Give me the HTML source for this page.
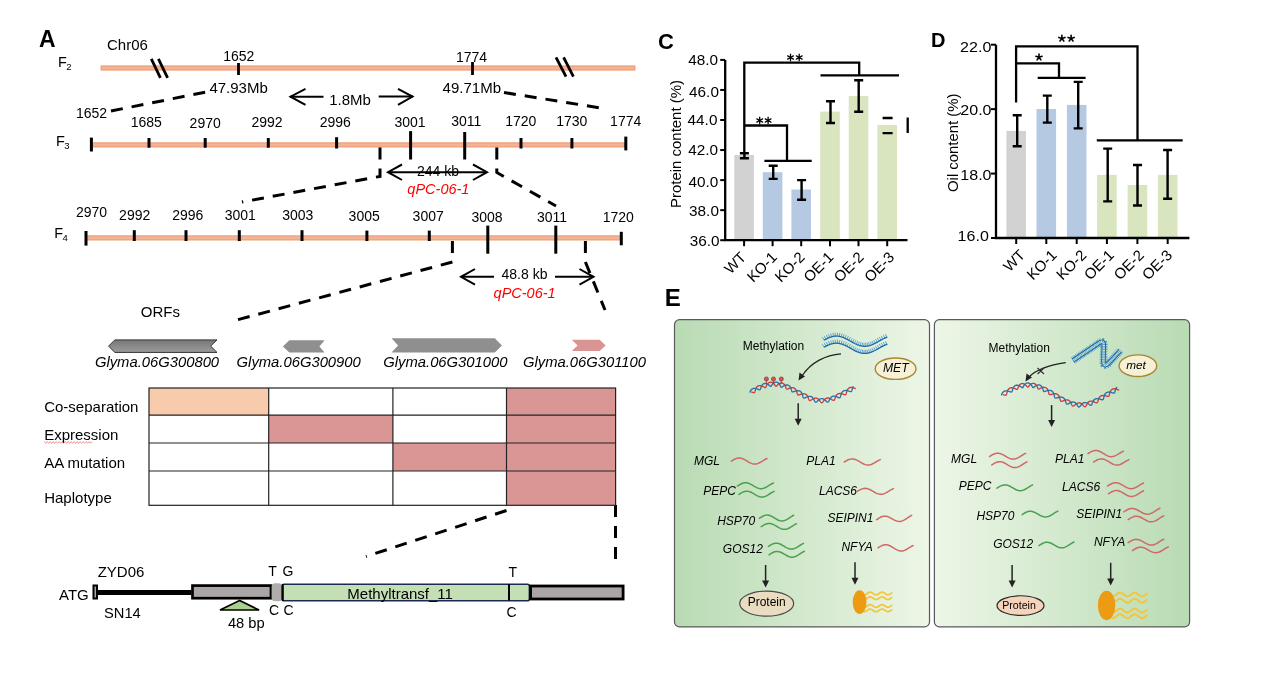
<!DOCTYPE html>
<html><head><meta charset="utf-8">
<style>
html,body{margin:0;padding:0;background:#fff;}
body{width:1268px;height:676px;overflow:hidden;position:relative;}
svg{position:absolute;left:0;top:0;will-change:transform;}
text{font-family:"Liberation Sans",sans-serif;fill:#000;}
</style></head><body>
<svg width="1268" height="676" viewBox="0 0 1268 676">
<defs>
<linearGradient id="gL" x1="0" x2="1" y1="0" y2="0">
<stop offset="0" stop-color="#b8dbb3"/><stop offset="1" stop-color="#edf6e7"/></linearGradient>
<linearGradient id="gR" x1="0" x2="1" y1="0" y2="0">
<stop offset="0" stop-color="#edf6e7"/><stop offset="1" stop-color="#b8dbb3"/></linearGradient>
</defs>
<!-- ============ PANEL A ============ -->
<g id="A">
<text x="39" y="46.6" font-size="23" font-weight="bold">A</text>
<text x="107" y="50.3" font-size="15">Chr06</text>
<!-- F2 -->
<text x="58" y="66.6" font-size="14.5">F</text><text x="66.2" y="69.6" font-size="9.5">2</text>
<rect x="101.20" y="66.00" width="533.70" height="4.00" fill="#F3B398" stroke="#EF9D70" stroke-width="1.2"/>
<g stroke="#000" stroke-width="2.8" stroke-linecap="butt">
<line x1="151.3" y1="58.9" x2="160.4" y2="77.8"/><line x1="158.4" y1="58.9" x2="167.6" y2="77.8"/>
<line x1="556" y1="57.4" x2="566" y2="76.7"/><line x1="563.6" y1="57.4" x2="573.4" y2="76.7"/>
<line x1="238.5" y1="63" x2="238.5" y2="75"/><line x1="472.5" y1="62" x2="472.5" y2="75"/>
</g>
<text x="238.8" y="61.4" font-size="14" text-anchor="middle">1652</text>
<text x="471.5" y="62" font-size="14" text-anchor="middle">1774</text>
<text x="238.6" y="93.4" font-size="15" text-anchor="middle">47.93Mb</text>
<text x="471.8" y="93.3" font-size="15" text-anchor="middle">49.71Mb</text>
<text x="350" y="104.9" font-size="15" text-anchor="middle">1.8Mb</text>
<g stroke="#000" stroke-width="2" fill="none">
<line x1="290" y1="96.7" x2="323.5" y2="96.7"/><polyline points="305.5,88.9 290.5,96.7 305.5,104.9"/>
<line x1="378.7" y1="96.6" x2="413" y2="96.6"/><polyline points="398,88.9 412.5,96.6 398,104.9"/>
</g>
<g stroke="#000" stroke-width="3" stroke-dasharray="12,9" fill="none">
<line x1="111" y1="111" x2="206" y2="92"/>
<line x1="504" y1="92.5" x2="607" y2="109"/>
</g>
<!-- F3 -->
<text x="56" y="145.6" font-size="14.5">F</text><text x="64.3" y="148.6" font-size="9.5">3</text>
<rect x="91.90" y="142.90" width="533.30" height="4.00" fill="#F3B398" stroke="#EF9D70" stroke-width="1.2"/>
<g font-size="14" text-anchor="middle">
<text x="91.5" y="118">1652</text>
<text x="146.3" y="126.8">1685</text>
<text x="205.2" y="127.5">2970</text>
<text x="267" y="126.8">2992</text>
<text x="335.3" y="127">2996</text>
<text x="410" y="127">3001</text>
<text x="466.3" y="125.5">3011</text>
<text x="520.8" y="125.5">1720</text>
<text x="571.8" y="125.5">1730</text>
<text x="625.7" y="125.5">1774</text>
</g>
<g stroke="#000" stroke-width="3">
<line x1="91.4" y1="137.6" x2="91.4" y2="151.5"/>
<line x1="149" y1="138" x2="149" y2="147.7"/>
<line x1="205.2" y1="138" x2="205.2" y2="147.7"/>
<line x1="268.3" y1="138" x2="268.3" y2="147.7"/>
<line x1="336.6" y1="137.2" x2="336.6" y2="148.5"/>
<line x1="410.6" y1="131.1" x2="410.6" y2="159.5"/>
<line x1="464.7" y1="132" x2="464.7" y2="159.5"/>
<line x1="521" y1="138" x2="521" y2="148.5"/>
<line x1="571.9" y1="138" x2="571.9" y2="148.5"/>
<line x1="625.8" y1="136.6" x2="625.8" y2="150.4"/>
</g>
<g stroke="#000" stroke-width="3" stroke-dasharray="12,9" fill="none">
<polyline points="380,147.5 380,176.4 242,202"/>
<polyline points="496.8,147.5 496.8,172.5 556,206"/>
</g>
<text x="438" y="175.5" font-size="14" text-anchor="middle">244 kb</text>
<g stroke="#000" stroke-width="2" fill="none">
<line x1="388" y1="172.2" x2="487" y2="172.2"/>
<polyline points="402,164.5 388,172.2 402,180"/>
<polyline points="473,164.5 487,172.2 473,180"/>
</g>
<text x="438.4" y="194.1" font-size="14.5" font-style="italic" text-anchor="middle" style="fill:#f00">qPC-06-1</text>
<!-- F4 -->
<text x="54.3" y="238" font-size="14.5">F</text><text x="62.6" y="241" font-size="9.5">4</text>
<rect x="86.50" y="235.90" width="534.30" height="4.00" fill="#F3B398" stroke="#EF9D70" stroke-width="1.2"/>
<g font-size="14" text-anchor="middle">
<text x="91.6" y="216.6">2970</text>
<text x="134.7" y="220">2992</text>
<text x="187.8" y="220">2996</text>
<text x="240.3" y="220">3001</text>
<text x="297.8" y="220">3003</text>
<text x="364.2" y="221.4">3005</text>
<text x="428.2" y="221.4">3007</text>
<text x="487" y="222">3008</text>
<text x="552.1" y="221.5">3011</text>
<text x="618.3" y="222">1720</text>
</g>
<g stroke="#000" stroke-width="3">
<line x1="86" y1="231" x2="86" y2="245.6"/>
<line x1="134.3" y1="230.2" x2="134.3" y2="241"/>
<line x1="186" y1="230.2" x2="186" y2="241"/>
<line x1="239.3" y1="230.2" x2="239.3" y2="241"/>
<line x1="302" y1="230.2" x2="302" y2="241"/>
<line x1="366.9" y1="230.6" x2="366.9" y2="241"/>
<line x1="429.3" y1="230.6" x2="429.3" y2="241"/>
<line x1="487.8" y1="225.6" x2="487.8" y2="253.7"/>
<line x1="555.8" y1="225.6" x2="555.8" y2="253.7"/>
<line x1="621.3" y1="231.8" x2="621.3" y2="245.3"/>
</g>
<g stroke="#000" stroke-width="3" stroke-dasharray="12,9" fill="none">
<polyline points="452.4,241 452.4,262 233,321"/>
<polyline points="585.4,241 585.4,262 605,310"/>
<line x1="615.5" y1="505" x2="615.5" y2="564"/>
<line x1="506.5" y1="510.5" x2="366" y2="556.5"/>
</g>
<text x="524.5" y="279" font-size="14" text-anchor="middle">48.8 kb</text>
<g stroke="#000" stroke-width="2" fill="none">
<line x1="461" y1="276.8" x2="494" y2="276.8"/>
<line x1="555" y1="276.8" x2="593.5" y2="276.8"/>
<polyline points="475,269 461,276.8 475,284.6"/>
<polyline points="579.5,269 593.5,276.8 579.5,284.6"/>
</g>
<text x="524.6" y="298" font-size="14.5" font-style="italic" text-anchor="middle" style="fill:#f00">qPC-06-1</text>
<!-- ORFs -->
<text x="160.4" y="316.5" font-size="15" text-anchor="middle">ORFs</text>
<linearGradient id="gArr" x1="0" x2="0" y1="0" y2="1"><stop offset="0" stop-color="#777"/><stop offset="1" stop-color="#9c9c9c"/></linearGradient>
<polygon points="108.6,346.1 114.8,339.9 217,339.9 210.6,346.1 217,352.4 114.8,352.4" fill="url(#gArr)" stroke="#333" stroke-width="1"/>
<polygon points="282.9,346.4 289.3,340.3 324.6,340.3 319.4,346.4 324.6,352.4 289.3,352.4" fill="#8f8f8f"/>
<polygon points="391.5,338.2 494.8,338.2 501.9,345.4 494.8,352.6 391.5,352.6 398.1,345.4" fill="#8f8f8f"/>
<polygon points="571.7,339.8 599.7,339.8 605.7,345.4 599.7,351.1 571.7,351.1 577.6,345.4" fill="#d99593"/>
<g font-size="14.8" font-style="italic" text-anchor="middle">
<text x="157" y="366.6">Glyma.06G300800</text>
<text x="298.7" y="366.6">Glyma.06G300900</text>
<text x="445.4" y="366.6">Glyma.06G301000</text>
<text x="584.5" y="366.6">Glyma.06G301100</text>
</g>
<!-- table -->
<rect x="149" y="388" width="119.7" height="27.2" fill="#F8CBAD"/>
<rect x="268.7" y="415.2" width="124.2" height="27.8" fill="#D99694"/>
<rect x="392.9" y="443" width="113.6" height="28" fill="#D99694"/>
<rect x="506.5" y="388" width="109.1" height="117.3" fill="#D99694"/>
<g stroke="#222" stroke-width="1.2" fill="none">
<rect x="149" y="388" width="466.6" height="117.3"/>
<line x1="149" y1="415.2" x2="615.6" y2="415.2"/>
<line x1="149" y1="443" x2="615.6" y2="443"/>
<line x1="149" y1="471" x2="615.6" y2="471"/>
<line x1="268.7" y1="388" x2="268.7" y2="505.3"/>
<line x1="392.9" y1="388" x2="392.9" y2="505.3"/>
<line x1="506.5" y1="388" x2="506.5" y2="505.3"/>
</g>
<g font-size="15">
<text x="44.2" y="412.3">Co-separation</text>
<text x="44.2" y="440.3">Expression</text>
<text x="44.2" y="468.3">AA mutation</text>
<text x="44.2" y="502.5">Haplotype</text>
</g>
<polyline points="44.20,441.70 45.70,443.10 47.20,441.70 48.70,443.10 50.20,441.70 51.70,443.10 53.20,441.70 54.70,443.10 56.20,441.70 57.70,443.10 59.20,441.70 60.70,443.10 62.20,441.70 63.70,443.10 65.20,441.70 66.70,443.10 68.20,441.70 69.70,443.10 71.20,441.70 72.70,443.10 74.20,441.70 75.70,443.10 77.20,441.70 78.70,443.10 80.20,441.70 81.70,443.10 83.20,441.70 84.70,443.10 86.20,441.70 87.70,443.10 89.20,441.70 90.70,443.10 92.20,441.70" fill="none" stroke="#e45050" stroke-width="0.7"/>
<!-- gene structure -->
<text x="97.7" y="577.3" font-size="15">ZYD06</text>
<text x="59" y="600.3" font-size="15">ATG</text>
<text x="104" y="617.7" font-size="14.7">SN14</text>
<rect x="93.5" y="585.5" width="3.5" height="13" fill="#aaa6a6" stroke="#000" stroke-width="2"/>
<rect x="97" y="590" width="94.4" height="5" fill="#000"/>
<rect x="192.5" y="585.6" width="78.5" height="12.6" fill="#aaa6a6" stroke="#000" stroke-width="2.7"/>
<rect x="271.6" y="583.2" width="10.6" height="18" rx="3.5" fill="#b0acac"/>
<rect x="282" y="584.3" width="247.4" height="16.5" rx="2" fill="#C4DFB4" stroke="#1a2a50" stroke-width="1.6"/>
<line x1="282.9" y1="584" x2="282.9" y2="601" stroke="#000" stroke-width="1.8"/>
<line x1="509" y1="584.2" x2="509" y2="600.5" stroke="#000" stroke-width="2"/>
<rect x="530.6" y="586" width="92.5" height="13" fill="#aaa6a6" stroke="#000" stroke-width="2.8"/>
<polygon points="239.6,600.5 220,610 259.1,610" fill="#A9D18E" stroke="#000" stroke-width="1.6"/>
<g font-size="14">
<text x="268.2" y="576">T</text><text x="282.6" y="576">G</text>
<text x="269" y="614.6">C</text><text x="283.6" y="614.6">C</text>
<text x="508.4" y="576.7">T</text><text x="506.5" y="617.3">C</text>
<text x="227.9" y="627.6" font-size="14.7">48 bp</text>
<text x="347.3" y="599.4" font-size="15">Methyltransf_11</text>
</g>
</g>

<g id="CD">
<text x="658" y="49.2" font-size="22" font-weight="bold">C</text>
<rect x="734.3" y="155" width="19.6" height="85.2" fill="#d2d2d2"/>
<rect x="762.8" y="172.2" width="19.6" height="68" fill="#b6c9e2"/>
<rect x="791.4" y="189.5" width="19.6" height="50.7" fill="#b6c9e2"/>
<rect x="820.2" y="111.6" width="19.6" height="128.6" fill="#d9e5bf"/>
<rect x="848.7" y="96" width="19.6" height="144.2" fill="#d9e5bf"/>
<rect x="877.4" y="125" width="19.6" height="115.2" fill="#d9e5bf"/>
<path d="M725.2,59.9 V240.2 H907.5" fill="none" stroke="#000" stroke-width="2.3"/>
<line x1="720.2" y1="59.9" x2="725.2" y2="59.9" stroke="#000" stroke-width="2"/>
<text x="718.1" y="64.5" font-size="14.3" text-anchor="end" textLength="29.8" lengthAdjust="spacingAndGlyphs">48.0</text>
<line x1="720.2" y1="89.95" x2="725.2" y2="89.95" stroke="#000" stroke-width="2"/>
<text x="718.9" y="97" font-size="14.3" text-anchor="end" textLength="29.8" lengthAdjust="spacingAndGlyphs">46.0</text>
<line x1="720.2" y1="120" x2="725.2" y2="120" stroke="#000" stroke-width="2"/>
<text x="717.4" y="125.4" font-size="14.3" text-anchor="end" textLength="29.8" lengthAdjust="spacingAndGlyphs">44.0</text>
<line x1="720.2" y1="150.05" x2="725.2" y2="150.05" stroke="#000" stroke-width="2"/>
<text x="718.1" y="154.6" font-size="14.3" text-anchor="end" textLength="29.8" lengthAdjust="spacingAndGlyphs">42.0</text>
<line x1="720.2" y1="180.1" x2="725.2" y2="180.1" stroke="#000" stroke-width="2"/>
<text x="718.2" y="186.9" font-size="14.3" text-anchor="end" textLength="29.8" lengthAdjust="spacingAndGlyphs">40.0</text>
<line x1="720.2" y1="210.15" x2="725.2" y2="210.15" stroke="#000" stroke-width="2"/>
<text x="718.9" y="215.7" font-size="14.3" text-anchor="end" textLength="29.8" lengthAdjust="spacingAndGlyphs">38.0</text>
<line x1="720.2" y1="240.2" x2="725.2" y2="240.2" stroke="#000" stroke-width="2"/>
<text x="719.5" y="246" font-size="14.3" text-anchor="end" textLength="29.8" lengthAdjust="spacingAndGlyphs">36.0</text>
<line x1="744.1" y1="240.2" x2="744.1" y2="246.2" stroke="#000" stroke-width="2"/>
<line x1="772.6" y1="240.2" x2="772.6" y2="246.2" stroke="#000" stroke-width="2"/>
<line x1="801.2" y1="240.2" x2="801.2" y2="246.2" stroke="#000" stroke-width="2"/>
<line x1="830" y1="240.2" x2="830" y2="246.2" stroke="#000" stroke-width="2"/>
<line x1="858.5" y1="240.2" x2="858.5" y2="246.2" stroke="#000" stroke-width="2"/>
<line x1="887.2" y1="240.2" x2="887.2" y2="246.2" stroke="#000" stroke-width="2"/>
<text transform="translate(746.9,258.2) rotate(-45)" font-size="15" text-anchor="end">WT</text>
<text transform="translate(778,258.2) rotate(-45)" font-size="15" text-anchor="end">KO-1</text>
<text transform="translate(805.7,258.2) rotate(-45)" font-size="15" text-anchor="end">KO-2</text>
<text transform="translate(834.5,258.2) rotate(-45)" font-size="15" text-anchor="end">OE-1</text>
<text transform="translate(864.7,258.2) rotate(-45)" font-size="15" text-anchor="end">OE-2</text>
<text transform="translate(895.2,258.2) rotate(-45)" font-size="15" text-anchor="end">OE-3</text>
<path d="M739.9,153.2 H748.9 M744.4,153.2 V158.2 M739.9,158.2 H748.9" fill="none" stroke="#000" stroke-width="2.4"/>
<path d="M768.7,165.8 H777.7 M773.2,165.8 V178.9 M768.7,178.9 H777.7" fill="none" stroke="#000" stroke-width="2.4"/>
<path d="M797.1,180.1 H806.1 M801.6,180.1 V199.8 M797.1,199.8 H806.1" fill="none" stroke="#000" stroke-width="2.4"/>
<path d="M826,101.2 H835 M830.5,101.2 V123 M826,123 H835" fill="none" stroke="#000" stroke-width="2.4"/>
<path d="M854.2,80.3 H863.2 M858.7,80.3 V111.7 M854.2,111.7 H863.2" fill="none" stroke="#000" stroke-width="2.4"/>
<path d="M744.3,153.2 V62.7 H859.2 V75.3" fill="none" stroke="#000" stroke-width="2.3"/>
<path d="M820.5,75.3 H899" fill="none" stroke="#000" stroke-width="2.3"/>
<path d="M744.3,125.5 H787 V160.8" fill="none" stroke="#000" stroke-width="2.3"/>
<path d="M764.4,160.8 H811.7" fill="none" stroke="#000" stroke-width="2.3"/>
<path d="M882.6,118 H892.6 M882.6,133.1 H892.6 M907.7,117.5 V133.1" fill="none" stroke="#000" stroke-width="2.3"/>
<path d="M790.5,57.5 l0,-3.3 M790.5,57.5 l2.86,-1.65 M790.5,57.5 l2.86,1.65 M790.5,57.5 l0,3.3 M790.5,57.5 l-2.86,1.65 M790.5,57.5 l-2.86,-1.65" stroke="#000" stroke-width="1.3" stroke-linecap="round" fill="none"/>
<path d="M799.2,57.5 l0,-3.3 M799.2,57.5 l2.86,-1.65 M799.2,57.5 l2.86,1.65 M799.2,57.5 l0,3.3 M799.2,57.5 l-2.86,1.65 M799.2,57.5 l-2.86,-1.65" stroke="#000" stroke-width="1.3" stroke-linecap="round" fill="none"/>
<path d="M759.7,120.5 l0,-3.3 M759.7,120.5 l2.86,-1.65 M759.7,120.5 l2.86,1.65 M759.7,120.5 l0,3.3 M759.7,120.5 l-2.86,1.65 M759.7,120.5 l-2.86,-1.65" stroke="#000" stroke-width="1.3" stroke-linecap="round" fill="none"/>
<path d="M768.1,120.5 l0,-3.3 M768.1,120.5 l2.86,-1.65 M768.1,120.5 l2.86,1.65 M768.1,120.5 l0,3.3 M768.1,120.5 l-2.86,1.65 M768.1,120.5 l-2.86,-1.65" stroke="#000" stroke-width="1.3" stroke-linecap="round" fill="none"/>
<text transform="translate(681,208) rotate(-90)" font-size="15" textLength="128" lengthAdjust="spacingAndGlyphs">Protein content (%)</text>
<text x="931" y="46.9" font-size="20" font-weight="bold">D</text>
<rect x="1006.4" y="130.9" width="19.6" height="107.1" fill="#d2d2d2"/>
<rect x="1036.5" y="109" width="19.6" height="129" fill="#b6c9e2"/>
<rect x="1066.9" y="104.9" width="19.6" height="133.1" fill="#b6c9e2"/>
<rect x="1097.1" y="174.9" width="19.6" height="63.1" fill="#d9e5bf"/>
<rect x="1127.6" y="185" width="19.6" height="53" fill="#d9e5bf"/>
<rect x="1157.9" y="174.9" width="19.6" height="63.1" fill="#d9e5bf"/>
<path d="M996,44.7 V238 H1189.4" fill="none" stroke="#000" stroke-width="2.3"/>
<line x1="991" y1="44.7" x2="996" y2="44.7" stroke="#000" stroke-width="2"/>
<text x="991.3" y="51.7" font-size="14.3" text-anchor="end" textLength="31.2" lengthAdjust="spacingAndGlyphs">22.0</text>
<line x1="991" y1="109.13" x2="996" y2="109.13" stroke="#000" stroke-width="2"/>
<text x="991.5" y="115.2" font-size="14.3" text-anchor="end" textLength="31.2" lengthAdjust="spacingAndGlyphs">20.0</text>
<line x1="991" y1="173.57" x2="996" y2="173.57" stroke="#000" stroke-width="2"/>
<text x="991.5" y="180" font-size="14.3" text-anchor="end" textLength="31.2" lengthAdjust="spacingAndGlyphs">18.0</text>
<line x1="991" y1="238" x2="996" y2="238" stroke="#000" stroke-width="2"/>
<text x="988.8" y="240.9" font-size="14.3" text-anchor="end" textLength="31.2" lengthAdjust="spacingAndGlyphs">16.0</text>
<line x1="1016.2" y1="238" x2="1016.2" y2="244" stroke="#000" stroke-width="2"/>
<line x1="1046.3" y1="238" x2="1046.3" y2="244" stroke="#000" stroke-width="2"/>
<line x1="1076.7" y1="238" x2="1076.7" y2="244" stroke="#000" stroke-width="2"/>
<line x1="1106.9" y1="238" x2="1106.9" y2="244" stroke="#000" stroke-width="2"/>
<line x1="1137.4" y1="238" x2="1137.4" y2="244" stroke="#000" stroke-width="2"/>
<line x1="1167.7" y1="238" x2="1167.7" y2="244" stroke="#000" stroke-width="2"/>
<text transform="translate(1025.9,256) rotate(-45)" font-size="15" text-anchor="end">WT</text>
<text transform="translate(1057.7,256) rotate(-45)" font-size="15" text-anchor="end">KO-1</text>
<text transform="translate(1087.3,256) rotate(-45)" font-size="15" text-anchor="end">KO-2</text>
<text transform="translate(1114.9,256) rotate(-45)" font-size="15" text-anchor="end">OE-1</text>
<text transform="translate(1144.8,256) rotate(-45)" font-size="15" text-anchor="end">OE-2</text>
<text transform="translate(1173.1,256) rotate(-45)" font-size="15" text-anchor="end">OE-3</text>
<path d="M1012.7,115.3 H1021.7 M1017.2,115.3 V146.2 M1012.7,146.2 H1021.7" fill="none" stroke="#000" stroke-width="2.4"/>
<path d="M1042.8,95.6 H1051.8 M1047.3,95.6 V122.6 M1042.8,122.6 H1051.8" fill="none" stroke="#000" stroke-width="2.4"/>
<path d="M1073.7,81.9 H1082.7 M1078.2,81.9 V128.4 M1073.7,128.4 H1082.7" fill="none" stroke="#000" stroke-width="2.4"/>
<path d="M1103.2,148.6 H1112.2 M1107.7,148.6 V201.4 M1103.2,201.4 H1112.2" fill="none" stroke="#000" stroke-width="2.4"/>
<path d="M1133,165 H1142 M1137.5,165 V205.5 M1133,205.5 H1142" fill="none" stroke="#000" stroke-width="2.4"/>
<path d="M1163.1,150 H1172.1 M1167.6,150 V198.7 M1163.1,198.7 H1172.1" fill="none" stroke="#000" stroke-width="2.4"/>
<path d="M1016.1,102.4 V46.3 H1137.5 V140.4" fill="none" stroke="#000" stroke-width="2.3"/>
<path d="M1096.8,140.4 H1182.7" fill="none" stroke="#000" stroke-width="2.3"/>
<path d="M1016.1,63.3 H1059 V77.8" fill="none" stroke="#000" stroke-width="2.3"/>
<path d="M1037.7,77.8 H1085.6" fill="none" stroke="#000" stroke-width="2.3"/>
<path d="M1061.9,38.4 l0,-3.2 M1061.9,38.4 l3.04,-0.99 M1061.9,38.4 l1.88,2.59 M1061.9,38.4 l-1.88,2.59 M1061.9,38.4 l-3.04,-0.99" stroke="#000" stroke-width="1.6" stroke-linecap="round" fill="none"/>
<path d="M1071.1,38.4 l0,-3.2 M1071.1,38.4 l3.04,-0.99 M1071.1,38.4 l1.88,2.59 M1071.1,38.4 l-1.88,2.59 M1071.1,38.4 l-3.04,-0.99" stroke="#000" stroke-width="1.6" stroke-linecap="round" fill="none"/>
<path d="M1039,57.3 l0,-3.2 M1039,57.3 l3.04,-0.99 M1039,57.3 l1.88,2.59 M1039,57.3 l-1.88,2.59 M1039,57.3 l-3.04,-0.99" stroke="#000" stroke-width="1.6" stroke-linecap="round" fill="none"/>
<text transform="translate(957.6,192) rotate(-90)" font-size="15" textLength="98.5" lengthAdjust="spacingAndGlyphs">Oil content (%)</text>
</g>
<g id="E">
<text x="664.8" y="305.9" font-size="24" font-weight="bold">E</text>
<rect x="674.5" y="319.7" width="255" height="307.2" rx="5" fill="url(#gL)" stroke="#5a5a5a" stroke-width="1.2"/>
<rect x="934.4" y="319.7" width="255.2" height="307.2" rx="5" fill="url(#gR)" stroke="#5a5a5a" stroke-width="1.2"/>
<text x="742.8" y="350" font-size="12" fill="#1a1a1a">Methylation</text>
<path d="M824,340.14 l-1.69,-3.06 M825.9,339.12 l-1.6,-3.11 M827.8,338.19 l-1.45,-3.19 M829.7,337.4 l-1.23,-3.28 M831.6,336.77 l-0.94,-3.37 M833.5,336.34 l-0.59,-3.45 M835.4,336.13 l-0.2,-3.49 M837.3,336.13 l0.22,-3.49 M839.2,336.36 l0.61,-3.45 M841.1,336.8 l0.96,-3.37 M843,337.44 l1.25,-3.27 M844.9,338.24 l1.46,-3.18 M846.8,339.17 l1.61,-3.11 M848.7,340.19 l1.69,-3.06 M850.6,341.26 l1.72,-3.05 M852.5,342.32 l1.69,-3.07 M854.4,343.33 l1.6,-3.12 M856.3,344.25 l1.44,-3.19 M858.2,345.04 l1.22,-3.28 M860.1,345.65 l0.93,-3.37 M862,346.07 l0.57,-3.45 M863.9,346.28 l0.17,-3.5 M865.8,346.26 l-0.24,-3.49 M867.7,346.02 l-0.63,-3.44 M869.6,345.57 l-0.98,-3.36 M871.5,344.92 l-1.26,-3.27 M873.4,344.11 l-1.47,-3.18 M875.3,343.18 l-1.61,-3.11 M877.2,342.15 l-1.7,-3.06 M879.1,341.09 l-1.72,-3.05 M881,340.03 l-1.68,-3.07 M882.9,339.02 l-1.59,-3.12 M884.8,338.1 l-1.43,-3.19 M886.7,337.33 l-1.2,-3.29" stroke="#4d9bd2" stroke-width="0.85" fill="none"/>
<polyline points="824,340.14 824.5,339.86 825.01,339.59 825.51,339.32 826.01,339.06 826.52,338.81 827.02,338.56 827.52,338.32 828.03,338.09 828.53,337.87 829.03,337.66 829.53,337.46 830.04,337.28 830.54,337.1 831.04,336.94 831.55,336.79 832.05,336.65 832.55,336.53 833.06,336.42 833.56,336.33 834.06,336.26 834.57,336.19 835.07,336.15 835.57,336.12 836.08,336.1 836.58,336.1 837.08,336.12 837.59,336.15 838.09,336.2 838.59,336.26 839.1,336.34 839.6,336.44 840.1,336.54 840.6,336.67 841.11,336.8 841.61,336.96 842.11,337.12 842.62,337.3 843.12,337.48 843.62,337.68 844.13,337.9 844.63,338.12 845.13,338.35 845.64,338.59 846.14,338.83 846.64,339.09 847.15,339.35 847.65,339.62 848.15,339.89 848.66,340.17 849.16,340.45 849.66,340.73 850.17,341.01 850.67,341.29 851.17,341.58 851.67,341.86 852.18,342.14 852.68,342.42 853.18,342.69 853.69,342.96 854.19,343.22 854.69,343.48 855.2,343.73 855.7,343.97 856.2,344.21 856.71,344.43 857.21,344.65 857.71,344.85 858.22,345.04 858.72,345.22 859.22,345.39 859.73,345.55 860.23,345.69 860.73,345.82 861.23,345.93 861.74,346.03 862.24,346.11 862.74,346.18 863.25,346.23 863.75,346.27 864.25,346.29 864.76,346.3 865.26,346.29 865.76,346.26 866.27,346.22 866.77,346.17 867.27,346.09 867.78,346.01 868.28,345.91 868.78,345.79 869.29,345.66 869.79,345.51 870.29,345.35 870.8,345.18 871.3,345 871.8,344.81 872.3,344.6 872.81,344.38 873.31,344.16 873.81,343.92 874.32,343.68 874.82,343.42 875.32,343.17 875.83,342.9 876.33,342.63 876.83,342.36 877.34,342.08 877.84,341.8 878.34,341.51 878.85,341.23 879.35,340.95 879.85,340.66 880.36,340.38 880.86,340.1 881.36,339.83 881.87,339.56 882.37,339.29 882.87,339.03 883.37,338.78 883.88,338.53 884.38,338.29 884.88,338.07 885.39,337.85 885.89,337.64 886.39,337.44 886.9,337.25 887.4,337.08" fill="none" stroke="#1f6aa5" stroke-width="1.3"/>
<path d="M824,347.24 l-1.69,-3.06 M825.9,346.22 l-1.6,-3.11 M827.8,345.29 l-1.45,-3.19 M829.7,344.5 l-1.23,-3.28 M831.6,343.87 l-0.94,-3.37 M833.5,343.44 l-0.59,-3.45 M835.4,343.23 l-0.2,-3.49 M837.3,343.23 l0.22,-3.49 M839.2,343.46 l0.61,-3.45 M841.1,343.9 l0.96,-3.37 M843,344.54 l1.25,-3.27 M844.9,345.34 l1.46,-3.18 M846.8,346.27 l1.61,-3.11 M848.7,347.29 l1.69,-3.06 M850.6,348.36 l1.72,-3.05 M852.5,349.42 l1.69,-3.07 M854.4,350.43 l1.6,-3.12 M856.3,351.35 l1.44,-3.19 M858.2,352.14 l1.22,-3.28 M860.1,352.75 l0.93,-3.37 M862,353.17 l0.57,-3.45 M863.9,353.38 l0.17,-3.5 M865.8,353.36 l-0.24,-3.49 M867.7,353.12 l-0.63,-3.44 M869.6,352.67 l-0.98,-3.36 M871.5,352.02 l-1.26,-3.27 M873.4,351.21 l-1.47,-3.18 M875.3,350.28 l-1.61,-3.11 M877.2,349.25 l-1.7,-3.06 M879.1,348.19 l-1.72,-3.05 M881,347.13 l-1.68,-3.07 M882.9,346.12 l-1.59,-3.12 M884.8,345.2 l-1.43,-3.19 M886.7,344.43 l-1.2,-3.29" stroke="#4d9bd2" stroke-width="0.85" fill="none"/>
<polyline points="824,347.24 824.5,346.96 825.01,346.69 825.51,346.42 826.01,346.16 826.52,345.91 827.02,345.66 827.52,345.42 828.03,345.19 828.53,344.97 829.03,344.76 829.53,344.56 830.04,344.38 830.54,344.2 831.04,344.04 831.55,343.89 832.05,343.75 832.55,343.63 833.06,343.52 833.56,343.43 834.06,343.36 834.57,343.29 835.07,343.25 835.57,343.22 836.08,343.2 836.58,343.2 837.08,343.22 837.59,343.25 838.09,343.3 838.59,343.36 839.1,343.44 839.6,343.54 840.1,343.64 840.6,343.77 841.11,343.9 841.61,344.06 842.11,344.22 842.62,344.4 843.12,344.58 843.62,344.78 844.13,345 844.63,345.22 845.13,345.45 845.64,345.69 846.14,345.93 846.64,346.19 847.15,346.45 847.65,346.72 848.15,346.99 848.66,347.27 849.16,347.55 849.66,347.83 850.17,348.11 850.67,348.39 851.17,348.68 851.67,348.96 852.18,349.24 852.68,349.52 853.18,349.79 853.69,350.06 854.19,350.32 854.69,350.58 855.2,350.83 855.7,351.07 856.2,351.31 856.71,351.53 857.21,351.75 857.71,351.95 858.22,352.14 858.72,352.32 859.22,352.49 859.73,352.65 860.23,352.79 860.73,352.92 861.23,353.03 861.74,353.13 862.24,353.21 862.74,353.28 863.25,353.33 863.75,353.37 864.25,353.39 864.76,353.4 865.26,353.39 865.76,353.36 866.27,353.32 866.77,353.27 867.27,353.19 867.78,353.11 868.28,353.01 868.78,352.89 869.29,352.76 869.79,352.61 870.29,352.45 870.8,352.28 871.3,352.1 871.8,351.91 872.3,351.7 872.81,351.48 873.31,351.26 873.81,351.02 874.32,350.78 874.82,350.52 875.32,350.27 875.83,350 876.33,349.73 876.83,349.46 877.34,349.18 877.84,348.9 878.34,348.61 878.85,348.33 879.35,348.05 879.85,347.76 880.36,347.48 880.86,347.2 881.36,346.93 881.87,346.66 882.37,346.39 882.87,346.13 883.37,345.88 883.88,345.63 884.38,345.39 884.88,345.17 885.39,344.95 885.89,344.74 886.39,344.54 886.9,344.35 887.4,344.18" fill="none" stroke="#1f6aa5" stroke-width="1.3"/>
<ellipse cx="895.6" cy="368.7" rx="20.4" ry="10.7" fill="#f6f1d6" stroke="#a98634" stroke-width="1.4"/>
<text x="895.8" y="372.4" font-size="12.2" font-style="italic" text-anchor="middle" fill="#1a1a1a">MET</text>
<path d="M841,353.8 C826,355 811,362 802,376" fill="none" stroke="#222" stroke-width="1.2"/>
<polygon points="798.5,380.5 799.5,372.5 805,376.5" fill="#222"/>
<polyline points="751.2,391.88 751.71,392.04 752.18,392.2 752.63,392.35 753.03,392.48 753.39,392.58 753.71,392.64 753.99,392.65 754.23,392.61 754.43,392.5 754.6,392.34 754.75,392.1 754.87,391.81 754.98,391.46 755.09,391.06 755.21,390.61 755.33,390.13 755.47,389.62 755.64,389.1 755.84,388.58 756.08,388.07 756.36,387.59 756.68,387.13 757.04,386.73 757.44,386.37 757.88,386.08 758.36,385.85 758.86,385.69 759.38,385.6 759.92,385.58 760.47,385.62 761.01,385.73 761.55,385.88 762.07,386.07 762.56,386.29 763.03,386.52 763.46,386.77 763.86,387 764.21,387.21 764.53,387.39 764.8,387.52 765.04,387.61 765.25,387.63 765.43,387.59 765.59,387.48 765.74,387.3 765.88,387.06 766.02,386.76 766.17,386.41 766.34,386.01 766.54,385.58 766.76,385.12 767.01,384.66 767.31,384.21 767.64,383.78 768,383.37 768.41,383.02 768.84,382.72 769.3,382.48 769.79,382.32 770.29,382.23 770.8,382.22 771.31,382.29 771.81,382.43 772.29,382.64 772.76,382.91 773.2,383.23 773.61,383.58 773.98,383.96 774.32,384.35 774.62,384.73 774.89,385.09 775.12,385.43 775.33,385.72 775.52,385.95 775.69,386.13 775.85,386.24 776.01,386.28 776.17,386.25 776.36,386.15 776.56,385.99 776.79,385.77 777.05,385.5 777.34,385.2 777.68,384.88 778.05,384.55 778.45,384.22 778.89,383.91 779.36,383.63 779.85,383.4 780.36,383.22 780.88,383.1 781.4,383.05 781.92,383.07 782.42,383.17 782.91,383.35 783.36,383.59 783.79,383.91 784.18,384.28 784.53,384.69 784.84,385.15 785.11,385.63 785.35,386.12 785.55,386.6 785.72,387.08 785.87,387.53 786.01,387.93 786.13,388.3 786.26,388.6 786.39,388.85 786.54,389.03 786.71,389.14 786.91,389.19 787.15,389.18 787.42,389.12 787.73,389.01 788.09,388.86 788.48,388.68 788.92,388.48 789.39,388.29 789.89,388.1 790.42,387.93 790.96,387.79 791.52,387.69 792.07,387.65 792.62,387.66 793.16,387.73 793.68,387.87 794.17,388.08 794.62,388.35 795.04,388.68 795.42,389.06 795.75,389.5 796.05,389.97 796.3,390.48 796.52,391 796.7,391.53 796.85,392.05 796.98,392.56 797.1,393.04 797.2,393.48 797.31,393.87 797.43,394.21 797.56,394.5 797.72,394.72 797.9,394.88 798.12,394.97 798.37,395.01 798.66,394.99 799,394.92 799.37,394.81 799.78,394.67 800.23,394.51 800.71,394.35 801.22,394.18 801.75,394.03 802.29,393.9 802.84,393.81 803.39,393.76 803.93,393.76 804.45,393.82 804.96,393.93 805.44,394.11 805.89,394.35 806.31,394.64 806.69,395 807.04,395.39 807.35,395.83 807.62,396.3 807.86,396.79 808.07,397.29 808.26,397.79 808.43,398.28 808.58,398.74 808.73,399.16 808.88,399.54 809.02,399.87 809.18,400.14 809.35,400.34 809.54,400.48 809.76,400.55 810,400.55 810.27,400.49 810.56,400.38 810.89,400.21 811.25,400 811.63,399.77 812.04,399.51 812.47,399.24 812.91,398.97 813.38,398.72 813.85,398.5 814.33,398.31 814.81,398.17 815.3,398.08 815.77,398.04 816.24,398.07 816.69,398.16 817.13,398.31 817.56,398.53 817.96,398.79 818.35,399.11 818.72,399.46 819.06,399.84 819.39,400.24 819.7,400.65 819.99,401.05 820.26,401.44 820.52,401.79 820.76,402.1 821,402.37 821.22,402.58 821.44,402.72 821.65,402.79 821.87,402.79 822.08,402.72 822.29,402.58 822.51,402.38 822.74,402.11 822.98,401.8 823.23,401.44 823.5,401.06 823.78,400.65 824.08,400.24 824.4,399.83 824.74,399.44 825.1,399.08 825.48,398.75 825.88,398.47 826.3,398.25 826.73,398.08 827.19,397.98 827.65,397.94 828.13,397.96 828.62,398.04 829.1,398.17 829.59,398.35 830.07,398.56 830.54,398.8 830.99,399.06 831.43,399.32 831.84,399.57 832.23,399.81 832.59,400.02 832.92,400.18 833.23,400.3 833.5,400.36 833.74,400.36 833.96,400.29 834.15,400.16 834.32,399.96 834.48,399.69 834.63,399.37 834.77,398.99 834.91,398.57 835.06,398.11 835.23,397.62 835.41,397.12 835.62,396.62 835.85,396.12 836.12,395.65 836.42,395.2 836.76,394.8 837.14,394.44 837.56,394.13 838,393.89 838.48,393.7 838.99,393.58 839.52,393.51 840.06,393.5 840.61,393.54 841.16,393.63 841.7,393.75 842.23,393.9 842.74,394.06 843.23,394.23 843.68,394.39 844.1,394.53 844.47,394.64 844.81,394.71 845.11,394.73 845.37,394.7 845.58,394.61 845.77,394.46 845.93,394.24 846.06,393.97 846.18,393.63 846.28,393.24 846.39,392.8 846.51,392.33 846.64,391.82 846.79,391.3 846.97,390.77 847.18,390.25 847.43,389.75 847.72,389.27 848.05,388.83 848.43,388.44 848.85,388.11 849.3,387.83 849.79,387.62 850.3,387.48 850.84,387.4 851.39,387.39 851.94,387.44 852.5,387.53 853.04,387.67 853.57,387.84 854.07,388.03 854.54,388.24 854.97,388.44 855.37,388.62 855.73,388.78" fill="none" stroke="#d33a3a" stroke-width="1.35"/>
<polyline points="749.8,392.65 749.96,392.12 750.15,391.59 750.38,391.08 750.64,390.58 750.94,390.11 751.29,389.69 751.68,389.32 752.11,389.01 752.57,388.75 753.07,388.56 753.59,388.44 754.14,388.38 754.69,388.38 755.25,388.43 755.8,388.54 756.35,388.67 756.87,388.84 757.37,389.02 757.83,389.21 758.26,389.39 758.65,389.55 759,389.68 759.31,389.77 759.57,389.81 759.8,389.79 759.99,389.71 760.16,389.57 760.3,389.36 760.43,389.09 760.55,388.76 760.67,388.37 760.81,387.94 760.95,387.48 761.12,386.99 761.32,386.5 761.56,386 761.83,385.52 762.14,385.06 762.5,384.65 762.89,384.28 763.32,383.97 763.78,383.73 764.26,383.56 764.77,383.46 765.29,383.44 765.82,383.49 766.34,383.61 766.86,383.79 767.35,384.01 767.83,384.28 768.27,384.58 768.69,384.89 769.06,385.2 769.4,385.5 769.7,385.78 769.96,386.02 770.2,386.21 770.4,386.34 770.58,386.41 770.75,386.4 770.91,386.33 771.07,386.19 771.23,385.99 771.41,385.72 771.61,385.41 771.84,385.05 772.1,384.67 772.39,384.26 772.72,383.86 773.09,383.47 773.49,383.11 773.92,382.78 774.38,382.51 774.87,382.3 775.36,382.15 775.87,382.09 776.38,382.1 776.88,382.18 777.36,382.35 777.83,382.58 778.26,382.88 778.67,383.23 779.04,383.63 779.38,384.06 779.67,384.5 779.94,384.95 780.16,385.39 780.36,385.8 780.54,386.18 780.7,386.51 780.84,386.78 780.99,387 781.14,387.14 781.31,387.22 781.49,387.23 781.7,387.18 781.94,387.07 782.22,386.9 782.53,386.7 782.89,386.46 783.29,386.21 783.72,385.95 784.18,385.7 784.68,385.47 785.19,385.27 785.73,385.12 786.27,385.02 786.81,384.98 787.34,385.01 787.86,385.11 788.36,385.28 788.82,385.51 789.26,385.82 789.65,386.18 790.01,386.6 790.32,387.05 790.59,387.54 790.82,388.05 791.02,388.57 791.19,389.08 791.33,389.58 791.45,390.05 791.56,390.48 791.67,390.86 791.79,391.19 791.92,391.46 792.07,391.67 792.25,391.81 792.46,391.89 792.71,391.92 793,391.88 793.33,391.81 793.7,391.69 794.12,391.55 794.57,391.39 795.06,391.22 795.57,391.06 796.11,390.92 796.66,390.81 797.22,390.73 797.78,390.7 798.33,390.73 798.86,390.81 799.38,390.96 799.86,391.16 800.31,391.43 800.73,391.76 801.1,392.15 801.43,392.58 801.73,393.04 801.98,393.54 802.2,394.06 802.38,394.58 802.54,395.1 802.68,395.6 802.81,396.08 802.93,396.52 803.05,396.91 803.17,397.25 803.31,397.53 803.48,397.75 803.66,397.91 803.88,398 804.13,398.03 804.41,398 804.74,397.91 805.09,397.79 805.49,397.63 805.91,397.44 806.37,397.24 806.85,397.03 807.35,396.84 807.86,396.66 808.38,396.52 808.9,396.41 809.42,396.35 809.93,396.35 810.43,396.4 810.9,396.51 811.36,396.69 811.78,396.93 812.18,397.22 812.55,397.56 812.89,397.95 813.21,398.37 813.49,398.82 813.75,399.28 813.99,399.74 814.21,400.19 814.41,400.62 814.6,401.02 814.79,401.37 814.98,401.67 815.16,401.92 815.35,402.09 815.55,402.2 815.77,402.24 815.99,402.21 816.24,402.11 816.5,401.95 816.78,401.73 817.08,401.47 817.4,401.17 817.74,400.84 818.1,400.5 818.48,400.16 818.87,399.83 819.28,399.52 819.71,399.24 820.14,399 820.58,398.81 821.03,398.68 821.48,398.61 821.94,398.6 822.39,398.66 822.84,398.78 823.29,398.95 823.73,399.18 824.16,399.45 824.57,399.75 824.98,400.07 825.36,400.41 825.73,400.74 826.08,401.06 826.41,401.36 826.72,401.62 827,401.84 827.27,402 827.52,402.1 827.75,402.13 827.96,402.1 828.16,401.99 828.35,401.82 828.53,401.58 828.72,401.28 828.9,400.93 829.09,400.53 829.28,400.1 829.5,399.64 829.73,399.18 829.98,398.71 830.26,398.26 830.56,397.83 830.9,397.44 831.26,397.08 831.66,396.78 832.08,396.53 832.53,396.35 833.01,396.22 833.5,396.16 834.01,396.15 834.53,396.2 835.06,396.29 835.58,396.43 836.1,396.6 836.6,396.79 837.09,396.99 837.55,397.19 837.98,397.37 838.38,397.53 838.74,397.66 839.07,397.74 839.36,397.78 839.61,397.75 839.83,397.66 840.02,397.51 840.18,397.3 840.32,397.02 840.45,396.68 840.57,396.29 840.68,395.86 840.81,395.38 840.94,394.88 841.1,394.36 841.28,393.84 841.5,393.32 841.75,392.82 842.04,392.35 842.37,391.91 842.74,391.52 843.15,391.19 843.6,390.91 844.08,390.7 844.59,390.55 845.12,390.46 845.67,390.43 846.23,390.45 846.79,390.52 847.34,390.64 847.88,390.78 848.4,390.94 848.89,391.1 849.34,391.27 849.76,391.41 850.13,391.53 850.47,391.62 850.76,391.65 851.01,391.64 851.22,391.56 851.41,391.43 851.56,391.23 851.69,390.97 851.81,390.64 851.92,390.27 852.03,389.84 852.16,389.38 852.3,388.88 852.46,388.37 852.66,387.86 852.89,387.35 853.16,386.86 853.47,386.4" fill="none" stroke="#2a70ad" stroke-width="1.35"/>
<line x1="766.4" y1="380" x2="766.4" y2="383.5" stroke="#6a3030" stroke-width="0.7"/>
<circle cx="766.4" cy="379" r="2.1" fill="#d9534f" stroke="#7a2a2a" stroke-width="0.6"/>
<line x1="773.5" y1="380" x2="773.5" y2="383.5" stroke="#6a3030" stroke-width="0.7"/>
<circle cx="773.5" cy="379" r="2.1" fill="#d9534f" stroke="#7a2a2a" stroke-width="0.6"/>
<line x1="781.3" y1="380" x2="781.3" y2="383.5" stroke="#6a3030" stroke-width="0.7"/>
<circle cx="781.3" cy="379" r="2.1" fill="#d9534f" stroke="#7a2a2a" stroke-width="0.6"/>
<line x1="798.2" y1="403.3" x2="798.2" y2="420.8" stroke="#222" stroke-width="1.5"/><polygon points="794.7,418.8 801.7,418.8 798.2,425.8" fill="#222"/>
<text x="693.9" y="464.7" font-size="12" font-style="italic" fill="#1a1a1a">MGL</text>
<polyline points="731.3,461.2 732.29,460.58 733.28,459.98 734.27,459.43 735.27,458.95 736.26,458.56 737.25,458.26 738.24,458.08 739.23,458.02 740.22,458.08 741.22,458.26 742.21,458.55 743.2,458.94 744.19,459.42 745.18,459.95 746.17,460.54 747.17,461.14 748.16,461.74 749.15,462.31 750.14,462.83 751.13,463.28 752.12,463.64 753.12,463.89 754.11,464.04 755.1,464.06 756.09,463.96 757.08,463.74 758.08,463.41 759.07,462.99 760.06,462.48 761.05,461.92 762.04,461.31 763.03,460.69 764.02,460.07 765.02,459.49 766.01,458.96 767,458.5" fill="none" stroke="#d06868" stroke-width="1.5" stroke-linecap="round"/>
<text x="806.3" y="464.7" font-size="12" font-style="italic" fill="#1a1a1a">PLA1</text>
<polyline points="844.3,462 845.3,461.39 846.29,460.8 847.29,460.26 848.29,459.78 849.29,459.4 850.28,459.11 851.28,458.94 852.28,458.89 853.27,458.96 854.27,459.14 855.27,459.44 856.27,459.84 857.26,460.32 858.26,460.87 859.26,461.46 860.26,462.07 861.25,462.68 862.25,463.26 863.25,463.79 864.24,464.25 865.24,464.61 866.24,464.88 867.24,465.03 868.23,465.06 869.23,464.97 870.23,464.76 871.23,464.44 872.22,464.02 873.22,463.53 874.22,462.97 875.21,462.37 876.21,461.75 877.21,461.15 878.21,460.57 879.2,460.05 880.2,459.6" fill="none" stroke="#d06868" stroke-width="1.5" stroke-linecap="round"/>
<text x="703.2" y="495.4" font-size="12" font-style="italic" fill="#1a1a1a">PEPC</text>
<polyline points="737.5,486 738.5,485.37 739.49,484.77 740.49,484.21 741.49,483.72 742.49,483.31 743.48,483.01 744.48,482.82 745.48,482.75 746.48,482.81 747.47,482.98 748.47,483.26 749.47,483.64 750.46,484.11 751.46,484.64 752.46,485.21 753.46,485.81 754.45,486.4 755.45,486.96 756.45,487.47 757.44,487.91 758.44,488.26 759.44,488.51 760.44,488.64 761.43,488.66 762.43,488.55 763.43,488.32 764.42,487.99 765.42,487.56 766.42,487.04 767.42,486.47 768.41,485.85 769.41,485.22 770.41,484.6 771.41,484 772.4,483.46 773.4,483" fill="none" stroke="#4aa050" stroke-width="1.5" stroke-linecap="round"/>
<polyline points="738.9,494.4 739.88,493.77 740.85,493.17 741.82,492.61 742.8,492.12 743.77,491.71 744.75,491.41 745.73,491.22 746.7,491.15 747.67,491.21 748.65,491.38 749.62,491.66 750.6,492.04 751.57,492.51 752.55,493.04 753.52,493.61 754.5,494.21 755.48,494.8 756.45,495.36 757.42,495.87 758.4,496.31 759.38,496.66 760.35,496.91 761.33,497.04 762.3,497.06 763.27,496.95 764.25,496.72 765.23,496.39 766.2,495.96 767.17,495.44 768.15,494.87 769.12,494.25 770.1,493.62 771.08,493 772.05,492.4 773.02,491.86 774,491.4" fill="none" stroke="#4aa050" stroke-width="1.5" stroke-linecap="round"/>
<text x="819" y="494.8" font-size="12" font-style="italic" fill="#1a1a1a">LACS6</text>
<polyline points="856.9,491.6 857.91,490.97 858.93,490.37 859.94,489.81 860.96,489.32 861.97,488.91 862.98,488.61 864,488.42 865.01,488.35 866.02,488.41 867.04,488.58 868.05,488.86 869.07,489.24 870.08,489.71 871.09,490.24 872.11,490.81 873.12,491.41 874.14,492 875.15,492.56 876.16,493.07 877.18,493.51 878.19,493.86 879.21,494.11 880.22,494.24 881.23,494.26 882.25,494.15 883.26,493.92 884.27,493.59 885.29,493.16 886.3,492.64 887.32,492.07 888.33,491.45 889.34,490.82 890.36,490.2 891.37,489.6 892.39,489.06 893.4,488.6" fill="none" stroke="#d06868" stroke-width="1.5" stroke-linecap="round"/>
<text x="717.2" y="525.2" font-size="12" font-style="italic" fill="#1a1a1a">HSP70</text>
<polyline points="759.4,518.3 760.35,517.67 761.31,517.07 762.26,516.51 763.21,516.02 764.16,515.61 765.12,515.31 766.07,515.12 767.02,515.05 767.98,515.11 768.93,515.28 769.88,515.56 770.83,515.94 771.79,516.41 772.74,516.94 773.69,517.51 774.64,518.11 775.6,518.7 776.55,519.26 777.5,519.77 778.46,520.21 779.41,520.56 780.36,520.81 781.31,520.94 782.27,520.96 783.22,520.85 784.17,520.62 785.12,520.29 786.08,519.86 787.03,519.34 787.98,518.77 788.94,518.15 789.89,517.52 790.84,516.9 791.79,516.3 792.75,515.76 793.7,515.3" fill="none" stroke="#4aa050" stroke-width="1.5" stroke-linecap="round"/>
<polyline points="761.3,526.7 762.28,526.07 763.26,525.47 764.23,524.91 765.21,524.42 766.19,524.01 767.17,523.71 768.14,523.52 769.12,523.45 770.1,523.51 771.08,523.68 772.06,523.96 773.03,524.34 774.01,524.81 774.99,525.34 775.97,525.91 776.94,526.51 777.92,527.1 778.9,527.66 779.88,528.17 780.86,528.61 781.83,528.96 782.81,529.21 783.79,529.34 784.77,529.36 785.74,529.25 786.72,529.02 787.7,528.69 788.68,528.26 789.66,527.74 790.63,527.17 791.61,526.55 792.59,525.92 793.57,525.3 794.54,524.7 795.52,524.16 796.5,523.7" fill="none" stroke="#4aa050" stroke-width="1.5" stroke-linecap="round"/>
<text x="827.4" y="522.3" font-size="12" font-style="italic" fill="#1a1a1a">SEIPIN1</text>
<polyline points="876.6,519.7 877.58,519.03 878.55,518.39 879.52,517.79 880.5,517.26 881.48,516.82 882.45,516.48 883.43,516.25 884.4,516.14 885.38,516.16 886.35,516.29 887.33,516.53 888.3,516.88 889.27,517.3 890.25,517.79 891.23,518.33 892.2,518.88 893.18,519.44 894.15,519.96 895.12,520.43 896.1,520.83 897.08,521.15 898.05,521.36 899.03,521.45 900,521.43 900.98,521.28 901.95,521.01 902.93,520.64 903.9,520.17 904.88,519.61 905.85,519 906.83,518.35 907.8,517.67 908.78,517.01 909.75,516.38 910.73,515.8 911.7,515.3" fill="none" stroke="#d06868" stroke-width="1.5" stroke-linecap="round"/>
<text x="722.8" y="553.3" font-size="12" font-style="italic" fill="#1a1a1a">GOS12</text>
<polyline points="768.4,546.4 769.38,545.77 770.35,545.17 771.32,544.61 772.3,544.12 773.27,543.71 774.25,543.41 775.23,543.22 776.2,543.15 777.17,543.21 778.15,543.38 779.12,543.66 780.1,544.04 781.07,544.51 782.05,545.04 783.02,545.61 784,546.21 784.98,546.8 785.95,547.36 786.92,547.87 787.9,548.31 788.88,548.66 789.85,548.91 790.83,549.04 791.8,549.06 792.77,548.95 793.75,548.72 794.73,548.39 795.7,547.96 796.67,547.44 797.65,546.87 798.62,546.25 799.6,545.62 800.58,545 801.55,544.4 802.52,543.86 803.5,543.4" fill="none" stroke="#4aa050" stroke-width="1.5" stroke-linecap="round"/>
<polyline points="769,554.8 769.98,554.16 770.96,553.54 771.94,552.97 772.92,552.46 773.9,552.04 774.88,551.73 775.86,551.53 776.84,551.44 777.83,551.48 778.81,551.64 779.79,551.91 780.77,552.28 781.75,552.73 782.73,553.24 783.71,553.8 784.69,554.38 785.67,554.96 786.65,555.51 787.63,556.01 788.61,556.43 789.59,556.77 790.57,557.01 791.55,557.13 792.53,557.13 793.51,557 794.49,556.76 795.47,556.41 796.46,555.97 797.44,555.44 798.42,554.85 799.4,554.22 800.38,553.57 801.36,552.94 802.34,552.33 803.32,551.78 804.3,551.3" fill="none" stroke="#4aa050" stroke-width="1.5" stroke-linecap="round"/>
<text x="841.4" y="550.5" font-size="12" font-style="italic" fill="#1a1a1a">NFYA</text>
<polyline points="878,547.8 878.98,547.19 879.95,546.61 880.92,546.07 881.9,545.61 882.88,545.23 883.85,544.95 884.83,544.78 885.8,544.73 886.77,544.81 887.75,545 888.73,545.3 889.7,545.71 890.67,546.2 891.65,546.75 892.62,547.35 893.6,547.96 894.58,548.57 895.55,549.16 896.52,549.69 897.5,550.16 898.48,550.53 899.45,550.8 900.42,550.96 901.4,550.99 902.38,550.91 903.35,550.7 904.33,550.39 905.3,549.98 906.27,549.49 907.25,548.93 908.23,548.34 909.2,547.73 910.18,547.13 911.15,546.56 912.12,546.04 913.1,545.6" fill="none" stroke="#d06868" stroke-width="1.5" stroke-linecap="round"/>
<line x1="765.6" y1="565" x2="765.6" y2="582.6" stroke="#222" stroke-width="1.5"/><polygon points="762.1,580.6 769.1,580.6 765.6,587.6" fill="#222"/>
<line x1="855" y1="562.3" x2="855" y2="579.7" stroke="#222" stroke-width="1.5"/><polygon points="851.5,577.7 858.5,577.7 855,584.7" fill="#222"/>
<ellipse cx="766.7" cy="603.6" rx="27" ry="12.5" fill="#e9dcc0" stroke="#4a4a4a" stroke-width="1.2"/>
<text x="766.7" y="606" font-size="12" text-anchor="middle" fill="#1a1a1a">Protein</text>
<polyline points="864.2,594.8 864.54,594.78 864.87,594.72 865.21,594.62 865.55,594.49 865.88,594.32 866.22,594.13 866.56,593.92 866.89,593.69 867.23,593.46 867.57,593.23 867.9,593.01 868.24,592.81 868.58,592.62 868.91,592.47 869.25,592.34 869.59,592.26 869.92,592.21 870.26,592.2 870.6,592.24 870.93,592.31 871.27,592.42 871.6,592.57 871.94,592.74 872.28,592.94 872.61,593.15 872.95,593.38 873.29,593.61 873.62,593.84 873.96,594.06 874.3,594.25 874.63,594.43 874.97,594.58 875.31,594.69 875.64,594.76 875.98,594.8 876.32,594.79 876.65,594.74 876.99,594.66 877.33,594.54 877.66,594.38 878,594.2 878.34,593.99 878.67,593.77 879.01,593.54 879.35,593.31 879.68,593.09 880.02,592.88 880.36,592.69 880.69,592.52 881.03,592.38 881.37,592.28 881.7,592.22 882.04,592.2 882.38,592.22 882.71,592.28 883.05,592.38 883.39,592.51 883.72,592.67 884.06,592.87 884.4,593.08 884.73,593.3 885.07,593.53 885.4,593.76 885.74,593.98 886.08,594.19 886.41,594.37 886.75,594.53 887.09,594.65 887.42,594.74 887.76,594.79 888.1,594.8 888.43,594.77 888.77,594.69 889.11,594.58 889.44,594.44 889.78,594.27 890.12,594.07 890.45,593.85 890.79,593.63 891.13,593.4 891.46,593.17 891.8,592.95" fill="none" stroke="#f4c43a" stroke-width="1.7" stroke-linecap="round"/>
<polyline points="864.2,599.5 864.54,599.48 864.87,599.42 865.21,599.32 865.55,599.19 865.88,599.02 866.22,598.83 866.56,598.62 866.89,598.39 867.23,598.16 867.57,597.93 867.9,597.71 868.24,597.51 868.58,597.32 868.91,597.17 869.25,597.04 869.59,596.96 869.92,596.91 870.26,596.9 870.6,596.94 870.93,597.01 871.27,597.12 871.6,597.27 871.94,597.44 872.28,597.64 872.61,597.85 872.95,598.08 873.29,598.31 873.62,598.54 873.96,598.76 874.3,598.95 874.63,599.13 874.97,599.28 875.31,599.39 875.64,599.46 875.98,599.5 876.32,599.49 876.65,599.44 876.99,599.36 877.33,599.24 877.66,599.08 878,598.9 878.34,598.69 878.67,598.47 879.01,598.24 879.35,598.01 879.68,597.79 880.02,597.58 880.36,597.39 880.69,597.22 881.03,597.08 881.37,596.98 881.7,596.92 882.04,596.9 882.38,596.92 882.71,596.98 883.05,597.08 883.39,597.21 883.72,597.37 884.06,597.57 884.4,597.78 884.73,598 885.07,598.23 885.4,598.46 885.74,598.68 886.08,598.89 886.41,599.07 886.75,599.23 887.09,599.35 887.42,599.44 887.76,599.49 888.1,599.5 888.43,599.47 888.77,599.39 889.11,599.28 889.44,599.14 889.78,598.97 890.12,598.77 890.45,598.55 890.79,598.33 891.13,598.1 891.46,597.87 891.8,597.65" fill="none" stroke="#f4c43a" stroke-width="1.7" stroke-linecap="round"/>
<polyline points="864.2,607.3 864.54,607.28 864.87,607.22 865.21,607.12 865.55,606.99 865.88,606.82 866.22,606.63 866.56,606.42 866.89,606.19 867.23,605.96 867.57,605.73 867.9,605.51 868.24,605.31 868.58,605.12 868.91,604.97 869.25,604.84 869.59,604.76 869.92,604.71 870.26,604.7 870.6,604.74 870.93,604.81 871.27,604.92 871.6,605.07 871.94,605.24 872.28,605.44 872.61,605.65 872.95,605.88 873.29,606.11 873.62,606.34 873.96,606.56 874.3,606.75 874.63,606.93 874.97,607.08 875.31,607.19 875.64,607.26 875.98,607.3 876.32,607.29 876.65,607.24 876.99,607.16 877.33,607.04 877.66,606.88 878,606.7 878.34,606.49 878.67,606.27 879.01,606.04 879.35,605.81 879.68,605.59 880.02,605.38 880.36,605.19 880.69,605.02 881.03,604.88 881.37,604.78 881.7,604.72 882.04,604.7 882.38,604.72 882.71,604.78 883.05,604.88 883.39,605.01 883.72,605.17 884.06,605.37 884.4,605.58 884.73,605.8 885.07,606.03 885.4,606.26 885.74,606.48 886.08,606.69 886.41,606.87 886.75,607.03 887.09,607.15 887.42,607.24 887.76,607.29 888.1,607.3 888.43,607.27 888.77,607.19 889.11,607.08 889.44,606.94 889.78,606.77 890.12,606.57 890.45,606.35 890.79,606.13 891.13,605.9 891.46,605.67 891.8,605.45" fill="none" stroke="#f4c43a" stroke-width="1.7" stroke-linecap="round"/>
<polyline points="864.2,611.7 864.54,611.68 864.87,611.62 865.21,611.52 865.55,611.39 865.88,611.22 866.22,611.03 866.56,610.82 866.89,610.59 867.23,610.36 867.57,610.13 867.9,609.91 868.24,609.71 868.58,609.52 868.91,609.37 869.25,609.24 869.59,609.16 869.92,609.11 870.26,609.1 870.6,609.14 870.93,609.21 871.27,609.32 871.6,609.47 871.94,609.64 872.28,609.84 872.61,610.05 872.95,610.28 873.29,610.51 873.62,610.74 873.96,610.96 874.3,611.15 874.63,611.33 874.97,611.48 875.31,611.59 875.64,611.66 875.98,611.7 876.32,611.69 876.65,611.64 876.99,611.56 877.33,611.44 877.66,611.28 878,611.1 878.34,610.89 878.67,610.67 879.01,610.44 879.35,610.21 879.68,609.99 880.02,609.78 880.36,609.59 880.69,609.42 881.03,609.28 881.37,609.18 881.7,609.12 882.04,609.1 882.38,609.12 882.71,609.18 883.05,609.28 883.39,609.41 883.72,609.57 884.06,609.77 884.4,609.98 884.73,610.2 885.07,610.43 885.4,610.66 885.74,610.88 886.08,611.09 886.41,611.27 886.75,611.43 887.09,611.55 887.42,611.64 887.76,611.69 888.1,611.7 888.43,611.67 888.77,611.59 889.11,611.48 889.44,611.34 889.78,611.17 890.12,610.97 890.45,610.75 890.79,610.53 891.13,610.3 891.46,610.07 891.8,609.85" fill="none" stroke="#f4c43a" stroke-width="1.7" stroke-linecap="round"/>
<ellipse cx="859.6" cy="602.1" rx="6.9" ry="11.9" fill="#ec9b12"/>
<text x="988.5" y="352" font-size="12" fill="#1a1a1a">Methylation</text>
<path d="M1073,360.5 L1099,343 Q1103.8,339.8 1103.8,345 L1103.4,362 Q1103.6,367.5 1108.3,363.5 L1120.5,350.5" fill="none" stroke="#4a95cc" stroke-width="7.6" stroke-dasharray="0.7,0.95"/>
<path d="M1073,360.5 L1099,343 Q1103.8,339.8 1103.8,345 L1103.4,362 Q1103.6,367.5 1108.3,363.5 L1120.5,350.5" fill="none" stroke="#1f6aa5" stroke-width="4.6"/>
<path d="M1073,360.5 L1099,343 Q1103.8,339.8 1103.8,345 L1103.4,362 Q1103.6,367.5 1108.3,363.5 L1120.5,350.5" fill="none" stroke="#d3e8ce" stroke-width="2.4"/>
<path d="M1073,360.5 L1099,343 Q1103.8,339.8 1103.8,345 L1103.4,362 Q1103.6,367.5 1108.3,363.5 L1120.5,350.5" fill="none" stroke="#4a95cc" stroke-width="2.4" stroke-dasharray="0.7,0.95"/>
<ellipse cx="1137.9" cy="365.7" rx="18.8" ry="10.8" fill="#f6f1d6" stroke="#a98634" stroke-width="1.4"/>
<text x="1136" y="368.6" font-size="11.8" font-style="italic" text-anchor="middle" fill="#1a1a1a">met</text>
<path d="M1065.8,362.7 C1050,365 1036,370 1029,377" fill="none" stroke="#222" stroke-width="1.2"/>
<polygon points="1025.5,381.5 1026.5,373.5 1032,377.5" fill="#222"/>
<path d="M1037.5,368 L1044,374 M1037.5,374 L1044,368" stroke="#333" stroke-width="1.2"/>
<polyline points="1002.79,394.56 1003.31,394.69 1003.8,394.83 1004.25,394.96 1004.67,395.07 1005.04,395.16 1005.38,395.2 1005.66,395.19 1005.91,395.13 1006.11,395.01 1006.28,394.83 1006.43,394.58 1006.55,394.28 1006.65,393.92 1006.75,393.5 1006.85,393.05 1006.97,392.55 1007.1,392.03 1007.25,391.5 1007.44,390.97 1007.66,390.44 1007.93,389.94 1008.23,389.47 1008.58,389.04 1008.98,388.67 1009.41,388.35 1009.88,388.1 1010.38,387.92 1010.91,387.8 1011.46,387.75 1012.01,387.76 1012.57,387.83 1013.12,387.95 1013.66,388.11 1014.17,388.29 1014.66,388.5 1015.12,388.71 1015.53,388.91 1015.9,389.1 1016.24,389.25 1016.53,389.36 1016.78,389.41 1017,389.42 1017.18,389.35 1017.34,389.22 1017.49,389.03 1017.62,388.77 1017.75,388.45 1017.89,388.08 1018.03,387.66 1018.21,387.21 1018.4,386.74 1018.63,386.25 1018.9,385.78 1019.2,385.32 1019.55,384.89 1019.93,384.51 1020.34,384.18 1020.79,383.91 1021.27,383.71 1021.77,383.59 1022.28,383.55 1022.79,383.58 1023.31,383.68 1023.82,383.85 1024.31,384.09 1024.77,384.37 1025.21,384.69 1025.62,385.03 1025.99,385.39 1026.32,385.74 1026.62,386.07 1026.88,386.38 1027.11,386.64 1027.31,386.85 1027.5,387 1027.67,387.09 1027.83,387.1 1027.99,387.04 1028.16,386.92 1028.35,386.73 1028.56,386.48 1028.8,386.18 1029.07,385.85 1029.37,385.5 1029.71,385.13 1030.09,384.76 1030.5,384.42 1030.94,384.1 1031.41,383.83 1031.91,383.62 1032.41,383.47 1032.93,383.38 1033.44,383.38 1033.94,383.45 1034.43,383.6 1034.9,383.82 1035.34,384.11 1035.75,384.46 1036.12,384.86 1036.45,385.3 1036.74,385.76 1037,386.23 1037.22,386.7 1037.41,387.16 1037.58,387.59 1037.73,387.98 1037.86,388.32 1038,388.6 1038.13,388.83 1038.29,388.98 1038.46,389.07 1038.66,389.09 1038.89,389.05 1039.15,388.96 1039.46,388.82 1039.81,388.64 1040.2,388.43 1040.63,388.21 1041.09,388 1041.59,387.79 1042.11,387.6 1042.66,387.46 1043.21,387.35 1043.76,387.3 1044.31,387.31 1044.85,387.39 1045.37,387.54 1045.85,387.75 1046.31,388.03 1046.72,388.38 1047.1,388.78 1047.43,389.22 1047.71,389.71 1047.96,390.22 1048.17,390.75 1048.34,391.28 1048.48,391.81 1048.6,392.31 1048.71,392.79 1048.81,393.22 1048.91,393.6 1049.03,393.93 1049.16,394.2 1049.32,394.41 1049.5,394.56 1049.73,394.64 1049.99,394.67 1050.3,394.65 1050.66,394.58 1051.05,394.48 1051.49,394.36 1051.96,394.22 1052.47,394.08 1053.01,393.95 1053.56,393.84 1054.13,393.76 1054.7,393.72 1055.26,393.73 1055.82,393.79 1056.35,393.91 1056.86,394.1 1057.33,394.34 1057.77,394.64 1058.17,395.01 1058.53,395.42 1058.84,395.87 1059.12,396.36 1059.35,396.88 1059.55,397.41 1059.72,397.95 1059.86,398.47 1059.98,398.98 1060.1,399.45 1060.21,399.89 1060.32,400.28 1060.44,400.62 1060.59,400.89 1060.75,401.1 1060.95,401.25 1061.17,401.34 1061.44,401.36 1061.74,401.33 1062.08,401.25 1062.46,401.13 1062.88,400.98 1063.33,400.81 1063.8,400.63 1064.3,400.44 1064.82,400.28 1065.35,400.13 1065.89,400.02 1066.42,399.95 1066.94,399.93 1067.46,399.96 1067.95,400.06 1068.42,400.21 1068.87,400.43 1069.28,400.7 1069.67,401.03 1070.02,401.41 1070.34,401.83 1070.63,402.27 1070.89,402.74 1071.12,403.22 1071.34,403.69 1071.54,404.15 1071.72,404.58 1071.9,404.98 1072.07,405.33 1072.24,405.62 1072.42,405.86 1072.61,406.02 1072.81,406.12 1073.03,406.15 1073.27,406.11 1073.53,406 1073.81,405.84 1074.11,405.62 1074.44,405.36 1074.79,405.07 1075.15,404.76 1075.54,404.44 1075.95,404.12 1076.37,403.82 1076.8,403.54 1077.25,403.3 1077.7,403.1 1078.16,402.96 1078.62,402.88 1079.07,402.86 1079.53,402.91 1079.98,403.01 1080.42,403.18 1080.85,403.4 1081.27,403.67 1081.68,403.98 1082.07,404.31 1082.44,404.67 1082.8,405.03 1083.14,405.38 1083.46,405.72 1083.76,406.02 1084.04,406.28 1084.31,406.5 1084.56,406.65 1084.79,406.74 1085.01,406.76 1085.22,406.71 1085.43,406.59 1085.62,406.4 1085.82,406.14 1086.01,405.83 1086.21,405.47 1086.42,405.07 1086.64,404.64 1086.88,404.19 1087.14,403.74 1087.42,403.29 1087.72,402.86 1088.05,402.46 1088.41,402.1 1088.8,401.79 1089.21,401.53 1089.65,401.32 1090.11,401.18 1090.59,401.1 1091.09,401.08 1091.59,401.12 1092.11,401.21 1092.63,401.35 1093.14,401.51 1093.64,401.71 1094.13,401.92 1094.59,402.13 1095.03,402.34 1095.45,402.52 1095.83,402.67 1096.17,402.79 1096.48,402.86 1096.75,402.87 1096.99,402.82 1097.2,402.7 1097.38,402.53 1097.54,402.28 1097.67,401.98 1097.8,401.61 1097.92,401.2 1098.04,400.74 1098.17,400.26 1098.32,399.74 1098.48,399.22 1098.68,398.7 1098.91,398.18 1099.17,397.69 1099.47,397.23 1099.82,396.82 1100.2,396.45 1100.63,396.13 1101.09,395.87 1101.58,395.68 1102.1,395.54 1102.65,395.47 1103.2,395.45 1103.77,395.47 1104.33,395.54 1104.89,395.64 1105.43,395.77 1105.95,395.91 1106.44,396.05 1106.89,396.17 1107.3,396.28 1107.68,396.36 1108.01,396.39 1108.29,396.38 1108.54,396.31 1108.74,396.18 1108.91,395.99 1109.05,395.74 1109.17,395.43 1109.28,395.06 1109.38,394.64 1109.48,394.17 1109.59,393.68 1109.71,393.15 1109.87,392.62 1110.05,392.08 1110.27,391.55 1110.53,391.04 1110.83,390.57 1111.18,390.14 1111.57,389.76 1112.01,389.44 1112.48,389.18 1112.98,388.98 1113.51,388.86 1114.06,388.79 1114.61,388.79 1115.18,388.85 1115.74,388.95 1116.28,389.09 1116.8,389.26 1117.3,389.44 1117.76,389.63 1118.19,389.82 1118.57,389.98 1118.92,390.11 1119.22,390.2" fill="none" stroke="#d33a3a" stroke-width="1.35"/>
<polyline points="1001.41,395.38 1001.56,394.84 1001.74,394.3 1001.95,393.77 1002.2,393.26 1002.5,392.78 1002.84,392.34 1003.22,391.95 1003.64,391.61 1004.11,391.34 1004.6,391.12 1005.13,390.97 1005.68,390.89 1006.24,390.86 1006.81,390.89 1007.37,390.96 1007.93,391.07 1008.47,391.21 1008.98,391.37 1009.46,391.53 1009.91,391.68 1010.31,391.82 1010.68,391.92 1010.99,391.99 1011.27,392.01 1011.5,391.97 1011.7,391.87 1011.87,391.71 1012.01,391.49 1012.13,391.2 1012.24,390.86 1012.36,390.46 1012.47,390.02 1012.6,389.54 1012.76,389.04 1012.94,388.53 1013.15,388.01 1013.41,387.51 1013.7,387.04 1014.04,386.6 1014.41,386.21 1014.83,385.88 1015.28,385.61 1015.77,385.41 1016.27,385.28 1016.8,385.22 1017.34,385.24 1017.87,385.32 1018.41,385.46 1018.93,385.65 1019.42,385.89 1019.9,386.15 1020.33,386.43 1020.74,386.7 1021.1,386.97 1021.43,387.22 1021.71,387.43 1021.97,387.59 1022.18,387.69 1022.38,387.74 1022.55,387.71 1022.71,387.62 1022.86,387.46 1023.01,387.23 1023.17,386.94 1023.35,386.6 1023.55,386.22 1023.78,385.81 1024.05,385.38 1024.35,384.95 1024.68,384.52 1025.05,384.13 1025.46,383.77 1025.9,383.46 1026.36,383.21 1026.85,383.04 1027.35,382.93 1027.85,382.9 1028.36,382.96 1028.86,383.09 1029.34,383.29 1029.8,383.56 1030.23,383.88 1030.63,384.25 1030.99,384.65 1031.32,385.06 1031.61,385.49 1031.87,385.9 1032.09,386.29 1032.29,386.65 1032.47,386.95 1032.63,387.2 1032.78,387.39 1032.94,387.51 1033.1,387.56 1033.28,387.54 1033.48,387.46 1033.71,387.32 1033.97,387.12 1034.27,386.88 1034.61,386.61 1034.98,386.32 1035.4,386.03 1035.84,385.75 1036.32,385.49 1036.82,385.26 1037.35,385.08 1037.88,384.96 1038.41,384.9 1038.94,384.91 1039.46,384.99 1039.96,385.15 1040.43,385.37 1040.86,385.67 1041.27,386.03 1041.63,386.43 1041.95,386.89 1042.22,387.37 1042.46,387.88 1042.67,388.39 1042.84,388.89 1042.98,389.38 1043.11,389.83 1043.23,390.25 1043.34,390.62 1043.46,390.93 1043.59,391.18 1043.74,391.36 1043.93,391.48 1044.14,391.54 1044.39,391.54 1044.69,391.49 1045.03,391.4 1045.41,391.27 1045.83,391.12 1046.29,390.95 1046.79,390.79 1047.31,390.63 1047.86,390.5 1048.42,390.41 1048.99,390.35 1049.56,390.35 1050.11,390.4 1050.65,390.52 1051.16,390.7 1051.64,390.94 1052.09,391.25 1052.49,391.62 1052.85,392.03 1053.16,392.5 1053.44,392.99 1053.67,393.52 1053.86,394.06 1054.02,394.6 1054.16,395.13 1054.27,395.64 1054.37,396.12 1054.47,396.56 1054.58,396.95 1054.69,397.29 1054.82,397.57 1054.98,397.79 1055.18,397.94 1055.41,398.04 1055.68,398.07 1055.99,398.06 1056.34,398 1056.74,397.9 1057.17,397.78 1057.64,397.63 1058.14,397.49 1058.67,397.35 1059.21,397.22 1059.77,397.13 1060.33,397.07 1060.88,397.05 1061.43,397.09 1061.95,397.18 1062.46,397.34 1062.93,397.55 1063.37,397.83 1063.78,398.16 1064.14,398.54 1064.47,398.96 1064.76,399.43 1065.01,399.92 1065.23,400.43 1065.42,400.94 1065.59,401.44 1065.74,401.93 1065.88,402.39 1066.02,402.82 1066.15,403.19 1066.29,403.51 1066.45,403.77 1066.62,403.97 1066.82,404.1 1067.04,404.16 1067.3,404.15 1067.58,404.09 1067.9,403.97 1068.25,403.81 1068.63,403.61 1069.04,403.38 1069.47,403.14 1069.92,402.9 1070.39,402.66 1070.88,402.44 1071.37,402.25 1071.87,402.1 1072.36,402 1072.85,401.95 1073.33,401.97 1073.8,402.04 1074.25,402.18 1074.68,402.37 1075.09,402.63 1075.48,402.94 1075.84,403.29 1076.18,403.67 1076.5,404.08 1076.8,404.51 1077.08,404.93 1077.35,405.35 1077.59,405.74 1077.83,406.1 1078.05,406.41 1078.27,406.67 1078.48,406.86 1078.69,407 1078.9,407.06 1079.11,407.04 1079.33,406.96 1079.56,406.81 1079.8,406.6 1080.05,406.33 1080.31,406.01 1080.59,405.66 1080.88,405.28 1081.19,404.89 1081.52,404.5 1081.87,404.12 1082.24,403.76 1082.62,403.43 1083.03,403.14 1083.44,402.91 1083.88,402.73 1084.33,402.62 1084.79,402.57 1085.25,402.58 1085.73,402.65 1086.2,402.77 1086.67,402.95 1087.14,403.17 1087.6,403.42 1088.05,403.7 1088.48,403.98 1088.89,404.26 1089.28,404.53 1089.64,404.77 1089.98,404.98 1090.29,405.14 1090.57,405.25 1090.83,405.29 1091.06,405.27 1091.27,405.19 1091.46,405.03 1091.63,404.81 1091.79,404.53 1091.94,404.18 1092.09,403.79 1092.25,403.36 1092.42,402.89 1092.6,402.4 1092.8,401.91 1093.03,401.41 1093.28,400.94 1093.57,400.48 1093.9,400.06 1094.26,399.68 1094.65,399.36 1095.08,399.09 1095.54,398.87 1096.03,398.72 1096.54,398.63 1097.07,398.6 1097.62,398.62 1098.17,398.69 1098.71,398.79 1099.25,398.92 1099.77,399.08 1100.28,399.24 1100.75,399.4 1101.19,399.54 1101.59,399.66 1101.96,399.74 1102.28,399.78 1102.57,399.77 1102.81,399.71 1103.02,399.58 1103.2,399.39 1103.34,399.13 1103.47,398.82 1103.58,398.45 1103.68,398.02 1103.78,397.56 1103.9,397.06 1104.02,396.53 1104.18,396 1104.36,395.46 1104.57,394.93 1104.83,394.42 1105.12,393.94 1105.46,393.51 1105.85,393.12 1106.27,392.79 1106.73,392.51 1107.23,392.3 1107.76,392.15 1108.31,392.07 1108.87,392.04 1109.44,392.06 1110.01,392.13 1110.57,392.24 1111.11,392.37 1111.62,392.51 1112.11,392.66 1112.56,392.8 1112.97,392.93 1113.33,393.02 1113.65,393.07 1113.93,393.07 1114.17,393.02 1114.36,392.91 1114.53,392.74 1114.67,392.5 1114.79,392.2 1114.9,391.85 1115,391.44 1115.12,390.99 1115.24,390.5 1115.38,389.99 1115.56,389.47 1115.76,388.95 1116,388.44 1116.29,387.96 1116.61,387.51 1116.98,387.1" fill="none" stroke="#2a70ad" stroke-width="1.35"/>
<line x1="1051.6" y1="405.1" x2="1051.6" y2="422" stroke="#222" stroke-width="1.5"/><polygon points="1048.1,420 1055.1,420 1051.6,427" fill="#222"/>
<text x="951.1" y="462.5" font-size="12" font-style="italic" fill="#1a1a1a">MGL</text>
<polyline points="989.6,456.5 990.6,455.87 991.6,455.26 992.6,454.7 993.6,454.21 994.6,453.8 995.6,453.5 996.6,453.3 997.6,453.23 998.6,453.28 999.6,453.45 1000.6,453.73 1001.6,454.11 1002.6,454.57 1003.6,455.1 1004.6,455.67 1005.6,456.26 1006.6,456.85 1007.6,457.41 1008.6,457.92 1009.6,458.36 1010.6,458.71 1011.6,458.95 1012.6,459.08 1013.6,459.09 1014.6,458.98 1015.6,458.75 1016.6,458.41 1017.6,457.98 1018.6,457.46 1019.6,456.88 1020.6,456.26 1021.6,455.63 1022.6,455 1023.6,454.41 1024.6,453.87 1025.6,453.4" fill="none" stroke="#d06868" stroke-width="1.5" stroke-linecap="round"/>
<polyline points="991.8,464.9 992.78,464.27 993.76,463.67 994.73,463.11 995.71,462.62 996.69,462.21 997.67,461.91 998.64,461.72 999.62,461.65 1000.6,461.71 1001.58,461.88 1002.56,462.16 1003.53,462.54 1004.51,463.01 1005.49,463.54 1006.47,464.11 1007.44,464.71 1008.42,465.3 1009.4,465.86 1010.38,466.37 1011.36,466.81 1012.33,467.16 1013.31,467.41 1014.29,467.54 1015.27,467.56 1016.24,467.45 1017.22,467.22 1018.2,466.89 1019.18,466.46 1020.16,465.94 1021.13,465.37 1022.11,464.75 1023.09,464.12 1024.07,463.5 1025.04,462.9 1026.02,462.36 1027,461.9" fill="none" stroke="#d06868" stroke-width="1.5" stroke-linecap="round"/>
<text x="1055" y="462.5" font-size="12" font-style="italic" fill="#1a1a1a">PLA1</text>
<polyline points="1088,453.6 1088.98,452.99 1089.97,452.4 1090.95,451.86 1091.93,451.38 1092.92,451 1093.9,450.71 1094.88,450.54 1095.87,450.49 1096.85,450.56 1097.83,450.74 1098.82,451.04 1099.8,451.44 1100.78,451.92 1101.77,452.47 1102.75,453.06 1103.73,453.67 1104.72,454.28 1105.7,454.86 1106.68,455.39 1107.67,455.85 1108.65,456.21 1109.63,456.48 1110.62,456.63 1111.6,456.66 1112.58,456.57 1113.57,456.36 1114.55,456.04 1115.53,455.62 1116.52,455.13 1117.5,454.57 1118.48,453.97 1119.47,453.35 1120.45,452.75 1121.43,452.17 1122.42,451.65 1123.4,451.2" fill="none" stroke="#d06868" stroke-width="1.5" stroke-linecap="round"/>
<polyline points="1093.6,462 1094.58,461.39 1095.57,460.8 1096.55,460.26 1097.53,459.78 1098.52,459.4 1099.5,459.11 1100.48,458.94 1101.47,458.89 1102.45,458.96 1103.43,459.14 1104.42,459.44 1105.4,459.84 1106.38,460.32 1107.37,460.87 1108.35,461.46 1109.33,462.07 1110.32,462.68 1111.3,463.26 1112.28,463.79 1113.27,464.25 1114.25,464.61 1115.23,464.88 1116.22,465.03 1117.2,465.06 1118.18,464.97 1119.17,464.76 1120.15,464.44 1121.13,464.02 1122.12,463.53 1123.1,462.97 1124.08,462.37 1125.07,461.75 1126.05,461.15 1127.03,460.57 1128.02,460.05 1129,459.6" fill="none" stroke="#d06868" stroke-width="1.5" stroke-linecap="round"/>
<text x="958.7" y="490" font-size="12" font-style="italic" fill="#1a1a1a">PEPC</text>
<polyline points="996.9,488.2 997.89,487.56 998.88,486.95 999.88,486.38 1000.87,485.88 1001.86,485.47 1002.85,485.16 1003.84,484.97 1004.83,484.89 1005.82,484.93 1006.82,485.09 1007.81,485.37 1008.8,485.74 1009.79,486.2 1010.78,486.72 1011.77,487.29 1012.77,487.87 1013.76,488.45 1014.75,489.01 1015.74,489.51 1016.73,489.95 1017.72,490.29 1018.72,490.53 1019.71,490.65 1020.7,490.66 1021.69,490.54 1022.68,490.31 1023.67,489.96 1024.67,489.52 1025.66,489 1026.65,488.42 1027.64,487.79 1028.63,487.15 1029.62,486.52 1030.62,485.92 1031.61,485.37 1032.6,484.9" fill="none" stroke="#4aa050" stroke-width="1.5" stroke-linecap="round"/>
<text x="1062.1" y="491.4" font-size="12" font-style="italic" fill="#1a1a1a">LACS6</text>
<polyline points="1107.6,486 1108.6,485.37 1109.6,484.77 1110.6,484.21 1111.6,483.72 1112.6,483.31 1113.6,483.01 1114.6,482.82 1115.6,482.75 1116.6,482.81 1117.6,482.98 1118.6,483.26 1119.6,483.64 1120.6,484.11 1121.6,484.64 1122.6,485.21 1123.6,485.81 1124.6,486.4 1125.6,486.96 1126.6,487.47 1127.6,487.91 1128.6,488.26 1129.6,488.51 1130.6,488.64 1131.6,488.66 1132.6,488.55 1133.6,488.32 1134.6,487.99 1135.6,487.56 1136.6,487.04 1137.6,486.47 1138.6,485.85 1139.6,485.22 1140.6,484.6 1141.6,484 1142.6,483.46 1143.6,483" fill="none" stroke="#d06868" stroke-width="1.5" stroke-linecap="round"/>
<polyline points="1108.5,493.8 1109.47,493.17 1110.45,492.57 1111.42,492.01 1112.4,491.52 1113.38,491.11 1114.35,490.81 1115.33,490.62 1116.3,490.55 1117.28,490.61 1118.25,490.78 1119.22,491.06 1120.2,491.44 1121.17,491.91 1122.15,492.44 1123.12,493.01 1124.1,493.61 1125.08,494.2 1126.05,494.76 1127.02,495.27 1128,495.71 1128.97,496.06 1129.95,496.31 1130.92,496.44 1131.9,496.46 1132.88,496.35 1133.85,496.12 1134.82,495.79 1135.8,495.36 1136.77,494.84 1137.75,494.27 1138.72,493.65 1139.7,493.02 1140.67,492.4 1141.65,491.8 1142.62,491.26 1143.6,490.8" fill="none" stroke="#d06868" stroke-width="1.5" stroke-linecap="round"/>
<text x="976.4" y="519.5" font-size="12" font-style="italic" fill="#1a1a1a">HSP70</text>
<polyline points="1022.2,514.6 1023.19,513.96 1024.18,513.34 1025.17,512.77 1026.17,512.26 1027.16,511.84 1028.15,511.53 1029.14,511.33 1030.13,511.24 1031.12,511.28 1032.12,511.44 1033.11,511.71 1034.1,512.08 1035.09,512.53 1036.08,513.04 1037.08,513.6 1038.07,514.18 1039.06,514.76 1040.05,515.31 1041.04,515.81 1042.03,516.23 1043.03,516.57 1044.02,516.81 1045.01,516.93 1046,516.93 1046.99,516.8 1047.98,516.56 1048.98,516.21 1049.97,515.77 1050.96,515.24 1051.95,514.65 1052.94,514.02 1053.93,513.37 1054.93,512.74 1055.92,512.13 1056.91,511.58 1057.9,511.1" fill="none" stroke="#4aa050" stroke-width="1.5" stroke-linecap="round"/>
<text x="1076.2" y="517.9" font-size="12" font-style="italic" fill="#1a1a1a">SEIPIN1</text>
<polyline points="1123.9,511.8 1124.9,511.16 1125.9,510.54 1126.9,509.97 1127.9,509.46 1128.9,509.04 1129.9,508.73 1130.9,508.53 1131.9,508.44 1132.9,508.48 1133.9,508.64 1134.9,508.91 1135.9,509.28 1136.9,509.73 1137.9,510.24 1138.9,510.8 1139.9,511.38 1140.9,511.96 1141.9,512.51 1142.9,513.01 1143.9,513.43 1144.9,513.77 1145.9,514.01 1146.9,514.13 1147.9,514.13 1148.9,514 1149.9,513.76 1150.9,513.41 1151.9,512.97 1152.9,512.44 1153.9,511.85 1154.9,511.22 1155.9,510.57 1156.9,509.94 1157.9,509.33 1158.9,508.78 1159.9,508.3" fill="none" stroke="#d06868" stroke-width="1.5" stroke-linecap="round"/>
<polyline points="1128.1,519.7 1129.09,519.05 1130.08,518.42 1131.07,517.83 1132.07,517.32 1133.06,516.89 1134.05,516.56 1135.04,516.35 1136.03,516.25 1137.02,516.28 1138.02,516.43 1139.01,516.68 1140,517.04 1140.99,517.48 1141.98,517.99 1142.97,518.54 1143.97,519.11 1144.96,519.67 1145.95,520.21 1146.94,520.7 1147.93,521.11 1148.92,521.44 1149.92,521.66 1150.91,521.77 1151.9,521.76 1152.89,521.63 1153.88,521.37 1154.88,521.01 1155.87,520.56 1156.86,520.02 1157.85,519.42 1158.84,518.78 1159.83,518.12 1160.83,517.47 1161.82,516.85 1162.81,516.29 1163.8,515.8" fill="none" stroke="#d06868" stroke-width="1.5" stroke-linecap="round"/>
<text x="993.2" y="547.6" font-size="12" font-style="italic" fill="#1a1a1a">GOS12</text>
<polyline points="1039,545.6 1039.97,544.95 1040.94,544.33 1041.91,543.76 1042.88,543.25 1043.85,542.83 1044.82,542.51 1045.79,542.31 1046.76,542.22 1047.72,542.26 1048.69,542.41 1049.66,542.68 1050.63,543.04 1051.6,543.49 1052.57,544 1053.54,544.56 1054.51,545.14 1055.48,545.71 1056.45,546.26 1057.42,546.75 1058.39,547.18 1059.36,547.51 1060.33,547.74 1061.3,547.86 1062.27,547.86 1063.24,547.73 1064.21,547.49 1065.18,547.14 1066.14,546.69 1067.11,546.16 1068.08,545.57 1069.05,544.93 1070.02,544.29 1070.99,543.65 1071.96,543.04 1072.93,542.48 1073.9,542" fill="none" stroke="#4aa050" stroke-width="1.5" stroke-linecap="round"/>
<text x="1093.9" y="546.2" font-size="12" font-style="italic" fill="#1a1a1a">NFYA</text>
<polyline points="1128.1,542.7 1129.09,542.06 1130.08,541.44 1131.07,540.87 1132.07,540.36 1133.06,539.94 1134.05,539.63 1135.04,539.43 1136.03,539.34 1137.02,539.38 1138.02,539.54 1139.01,539.81 1140,540.18 1140.99,540.63 1141.98,541.14 1142.97,541.7 1143.97,542.28 1144.96,542.86 1145.95,543.41 1146.94,543.91 1147.93,544.33 1148.92,544.67 1149.92,544.91 1150.91,545.03 1151.9,545.03 1152.89,544.9 1153.88,544.66 1154.88,544.31 1155.87,543.87 1156.86,543.34 1157.85,542.75 1158.84,542.12 1159.83,541.47 1160.83,540.84 1161.82,540.23 1162.81,539.68 1163.8,539.2" fill="none" stroke="#d06868" stroke-width="1.5" stroke-linecap="round"/>
<polyline points="1132.4,550.6 1133.4,549.95 1134.39,549.32 1135.39,548.74 1136.39,548.23 1137.39,547.8 1138.38,547.48 1139.38,547.27 1140.38,547.18 1141.38,547.21 1142.37,547.36 1143.37,547.62 1144.37,547.98 1145.36,548.42 1146.36,548.93 1147.36,549.48 1148.36,550.05 1149.35,550.62 1150.35,551.16 1151.35,551.65 1152.34,552.07 1153.34,552.4 1154.34,552.62 1155.34,552.73 1156.33,552.73 1157.33,552.59 1158.33,552.35 1159.33,551.99 1160.32,551.53 1161.32,551 1162.32,550.4 1163.31,549.76 1164.31,549.11 1165.31,548.46 1166.31,547.85 1167.3,547.29 1168.3,546.8" fill="none" stroke="#d06868" stroke-width="1.5" stroke-linecap="round"/>
<line x1="1012.1" y1="565" x2="1012.1" y2="582.6" stroke="#222" stroke-width="1.5"/><polygon points="1008.6,580.6 1015.6,580.6 1012.1,587.6" fill="#222"/>
<line x1="1110.7" y1="562.8" x2="1110.7" y2="580.6" stroke="#222" stroke-width="1.5"/><polygon points="1107.2,578.6 1114.2,578.6 1110.7,585.6" fill="#222"/>
<ellipse cx="1020.5" cy="605.6" rx="23.5" ry="9.85" fill="#f6d3bb" stroke="#2a2a2a" stroke-width="1.2"/>
<text x="1019" y="608.8" font-size="10.6" text-anchor="middle" fill="#1a1a1a">Protein</text>
<polyline points="1112.7,596.4 1113.04,596.38 1113.37,596.32 1113.71,596.23 1114.04,596.1 1114.38,595.93 1114.71,595.74 1115.05,595.52 1115.38,595.28 1115.72,595.03 1116.05,594.76 1116.39,594.49 1116.72,594.22 1117.06,593.95 1117.39,593.7 1117.73,593.46 1118.06,593.24 1118.4,593.05 1118.74,592.89 1119.07,592.76 1119.41,592.67 1119.74,592.62 1120.08,592.6 1120.41,592.62 1120.75,592.68 1121.08,592.78 1121.42,592.92 1121.75,593.08 1122.09,593.28 1122.42,593.5 1122.76,593.74 1123.09,593.99 1123.43,594.26 1123.76,594.53 1124.1,594.8 1124.44,595.07 1124.77,595.32 1125.11,595.56 1125.44,595.77 1125.78,595.96 1126.11,596.12 1126.45,596.24 1126.78,596.33 1127.12,596.39 1127.45,596.4 1127.79,596.37 1128.12,596.31 1128.46,596.21 1128.79,596.07 1129.13,595.9 1129.46,595.71 1129.8,595.48 1130.14,595.24 1130.47,594.99 1130.81,594.72 1131.14,594.45 1131.48,594.18 1131.81,593.91 1132.15,593.66 1132.48,593.42 1132.82,593.21 1133.15,593.03 1133.49,592.87 1133.82,592.75 1134.16,592.66 1134.49,592.61 1134.83,592.6 1135.16,592.63 1135.5,592.7 1135.84,592.8 1136.17,592.94 1136.51,593.11 1136.84,593.31 1137.18,593.53 1137.51,593.78 1137.85,594.04 1138.18,594.3 1138.52,594.58 1138.85,594.85 1139.19,595.11 1139.52,595.36 1139.86,595.59 1140.19,595.8 1140.53,595.99 1140.86,596.14 1141.2,596.26 1141.54,596.34 1141.87,596.39 1142.21,596.4 1142.54,596.37 1142.88,596.3 1143.21,596.19 1143.55,596.05 1143.88,595.87 1144.22,595.67 1144.55,595.45 1144.89,595.2 1145.22,594.94 1145.56,594.68 1145.89,594.4 1146.23,594.13 1146.56,593.87 1146.9,593.62" fill="none" stroke="#f4c43a" stroke-width="1.9" stroke-linecap="round"/>
<polyline points="1112.7,602.7 1113.04,602.68 1113.37,602.62 1113.71,602.53 1114.04,602.4 1114.38,602.23 1114.71,602.04 1115.05,601.82 1115.38,601.58 1115.72,601.33 1116.05,601.06 1116.39,600.79 1116.72,600.52 1117.06,600.25 1117.39,600 1117.73,599.76 1118.06,599.54 1118.4,599.35 1118.74,599.19 1119.07,599.06 1119.41,598.97 1119.74,598.92 1120.08,598.9 1120.41,598.92 1120.75,598.98 1121.08,599.08 1121.42,599.22 1121.75,599.38 1122.09,599.58 1122.42,599.8 1122.76,600.04 1123.09,600.29 1123.43,600.56 1123.76,600.83 1124.1,601.1 1124.44,601.37 1124.77,601.62 1125.11,601.86 1125.44,602.07 1125.78,602.26 1126.11,602.42 1126.45,602.54 1126.78,602.63 1127.12,602.69 1127.45,602.7 1127.79,602.67 1128.12,602.61 1128.46,602.51 1128.79,602.37 1129.13,602.2 1129.46,602.01 1129.8,601.78 1130.14,601.54 1130.47,601.29 1130.81,601.02 1131.14,600.75 1131.48,600.48 1131.81,600.21 1132.15,599.96 1132.48,599.72 1132.82,599.51 1133.15,599.33 1133.49,599.17 1133.82,599.05 1134.16,598.96 1134.49,598.91 1134.83,598.9 1135.16,598.93 1135.5,599 1135.84,599.1 1136.17,599.24 1136.51,599.41 1136.84,599.61 1137.18,599.83 1137.51,600.08 1137.85,600.34 1138.18,600.6 1138.52,600.88 1138.85,601.15 1139.19,601.41 1139.52,601.66 1139.86,601.89 1140.19,602.1 1140.53,602.29 1140.86,602.44 1141.2,602.56 1141.54,602.64 1141.87,602.69 1142.21,602.7 1142.54,602.67 1142.88,602.6 1143.21,602.49 1143.55,602.35 1143.88,602.17 1144.22,601.97 1144.55,601.75 1144.89,601.5 1145.22,601.24 1145.56,600.98 1145.89,600.7 1146.23,600.43 1146.56,600.17 1146.9,599.92" fill="none" stroke="#f4c43a" stroke-width="1.9" stroke-linecap="round"/>
<polyline points="1112.7,612.5 1113.04,612.48 1113.37,612.42 1113.71,612.33 1114.04,612.2 1114.38,612.03 1114.71,611.84 1115.05,611.62 1115.38,611.38 1115.72,611.13 1116.05,610.86 1116.39,610.59 1116.72,610.32 1117.06,610.05 1117.39,609.8 1117.73,609.56 1118.06,609.34 1118.4,609.15 1118.74,608.99 1119.07,608.86 1119.41,608.77 1119.74,608.72 1120.08,608.7 1120.41,608.72 1120.75,608.78 1121.08,608.88 1121.42,609.02 1121.75,609.18 1122.09,609.38 1122.42,609.6 1122.76,609.84 1123.09,610.09 1123.43,610.36 1123.76,610.63 1124.1,610.9 1124.44,611.17 1124.77,611.42 1125.11,611.66 1125.44,611.87 1125.78,612.06 1126.11,612.22 1126.45,612.34 1126.78,612.43 1127.12,612.49 1127.45,612.5 1127.79,612.47 1128.12,612.41 1128.46,612.31 1128.79,612.17 1129.13,612 1129.46,611.81 1129.8,611.58 1130.14,611.34 1130.47,611.09 1130.81,610.82 1131.14,610.55 1131.48,610.28 1131.81,610.01 1132.15,609.76 1132.48,609.52 1132.82,609.31 1133.15,609.13 1133.49,608.97 1133.82,608.85 1134.16,608.76 1134.49,608.71 1134.83,608.7 1135.16,608.73 1135.5,608.8 1135.84,608.9 1136.17,609.04 1136.51,609.21 1136.84,609.41 1137.18,609.63 1137.51,609.88 1137.85,610.14 1138.18,610.4 1138.52,610.68 1138.85,610.95 1139.19,611.21 1139.52,611.46 1139.86,611.69 1140.19,611.9 1140.53,612.09 1140.86,612.24 1141.2,612.36 1141.54,612.44 1141.87,612.49 1142.21,612.5 1142.54,612.47 1142.88,612.4 1143.21,612.29 1143.55,612.15 1143.88,611.97 1144.22,611.77 1144.55,611.55 1144.89,611.3 1145.22,611.04 1145.56,610.78 1145.89,610.5 1146.23,610.23 1146.56,609.97 1146.9,609.72" fill="none" stroke="#f4c43a" stroke-width="1.9" stroke-linecap="round"/>
<polyline points="1112.7,618.1 1113.04,618.08 1113.37,618.02 1113.71,617.93 1114.04,617.8 1114.38,617.63 1114.71,617.44 1115.05,617.22 1115.38,616.98 1115.72,616.73 1116.05,616.46 1116.39,616.19 1116.72,615.92 1117.06,615.65 1117.39,615.4 1117.73,615.16 1118.06,614.94 1118.4,614.75 1118.74,614.59 1119.07,614.46 1119.41,614.37 1119.74,614.32 1120.08,614.3 1120.41,614.32 1120.75,614.38 1121.08,614.48 1121.42,614.62 1121.75,614.78 1122.09,614.98 1122.42,615.2 1122.76,615.44 1123.09,615.69 1123.43,615.96 1123.76,616.23 1124.1,616.5 1124.44,616.77 1124.77,617.02 1125.11,617.26 1125.44,617.47 1125.78,617.66 1126.11,617.82 1126.45,617.94 1126.78,618.03 1127.12,618.09 1127.45,618.1 1127.79,618.07 1128.12,618.01 1128.46,617.91 1128.79,617.77 1129.13,617.6 1129.46,617.41 1129.8,617.18 1130.14,616.94 1130.47,616.69 1130.81,616.42 1131.14,616.15 1131.48,615.88 1131.81,615.61 1132.15,615.36 1132.48,615.12 1132.82,614.91 1133.15,614.73 1133.49,614.57 1133.82,614.45 1134.16,614.36 1134.49,614.31 1134.83,614.3 1135.16,614.33 1135.5,614.4 1135.84,614.5 1136.17,614.64 1136.51,614.81 1136.84,615.01 1137.18,615.23 1137.51,615.48 1137.85,615.74 1138.18,616 1138.52,616.28 1138.85,616.55 1139.19,616.81 1139.52,617.06 1139.86,617.29 1140.19,617.5 1140.53,617.69 1140.86,617.84 1141.2,617.96 1141.54,618.04 1141.87,618.09 1142.21,618.1 1142.54,618.07 1142.88,618 1143.21,617.89 1143.55,617.75 1143.88,617.57 1144.22,617.37 1144.55,617.15 1144.89,616.9 1145.22,616.64 1145.56,616.38 1145.89,616.1 1146.23,615.83 1146.56,615.57 1146.9,615.32" fill="none" stroke="#f4c43a" stroke-width="1.9" stroke-linecap="round"/>
<ellipse cx="1106.6" cy="605.4" rx="8.7" ry="14.75" fill="#ec9b12"/>
</g>
</svg>
</body></html>
